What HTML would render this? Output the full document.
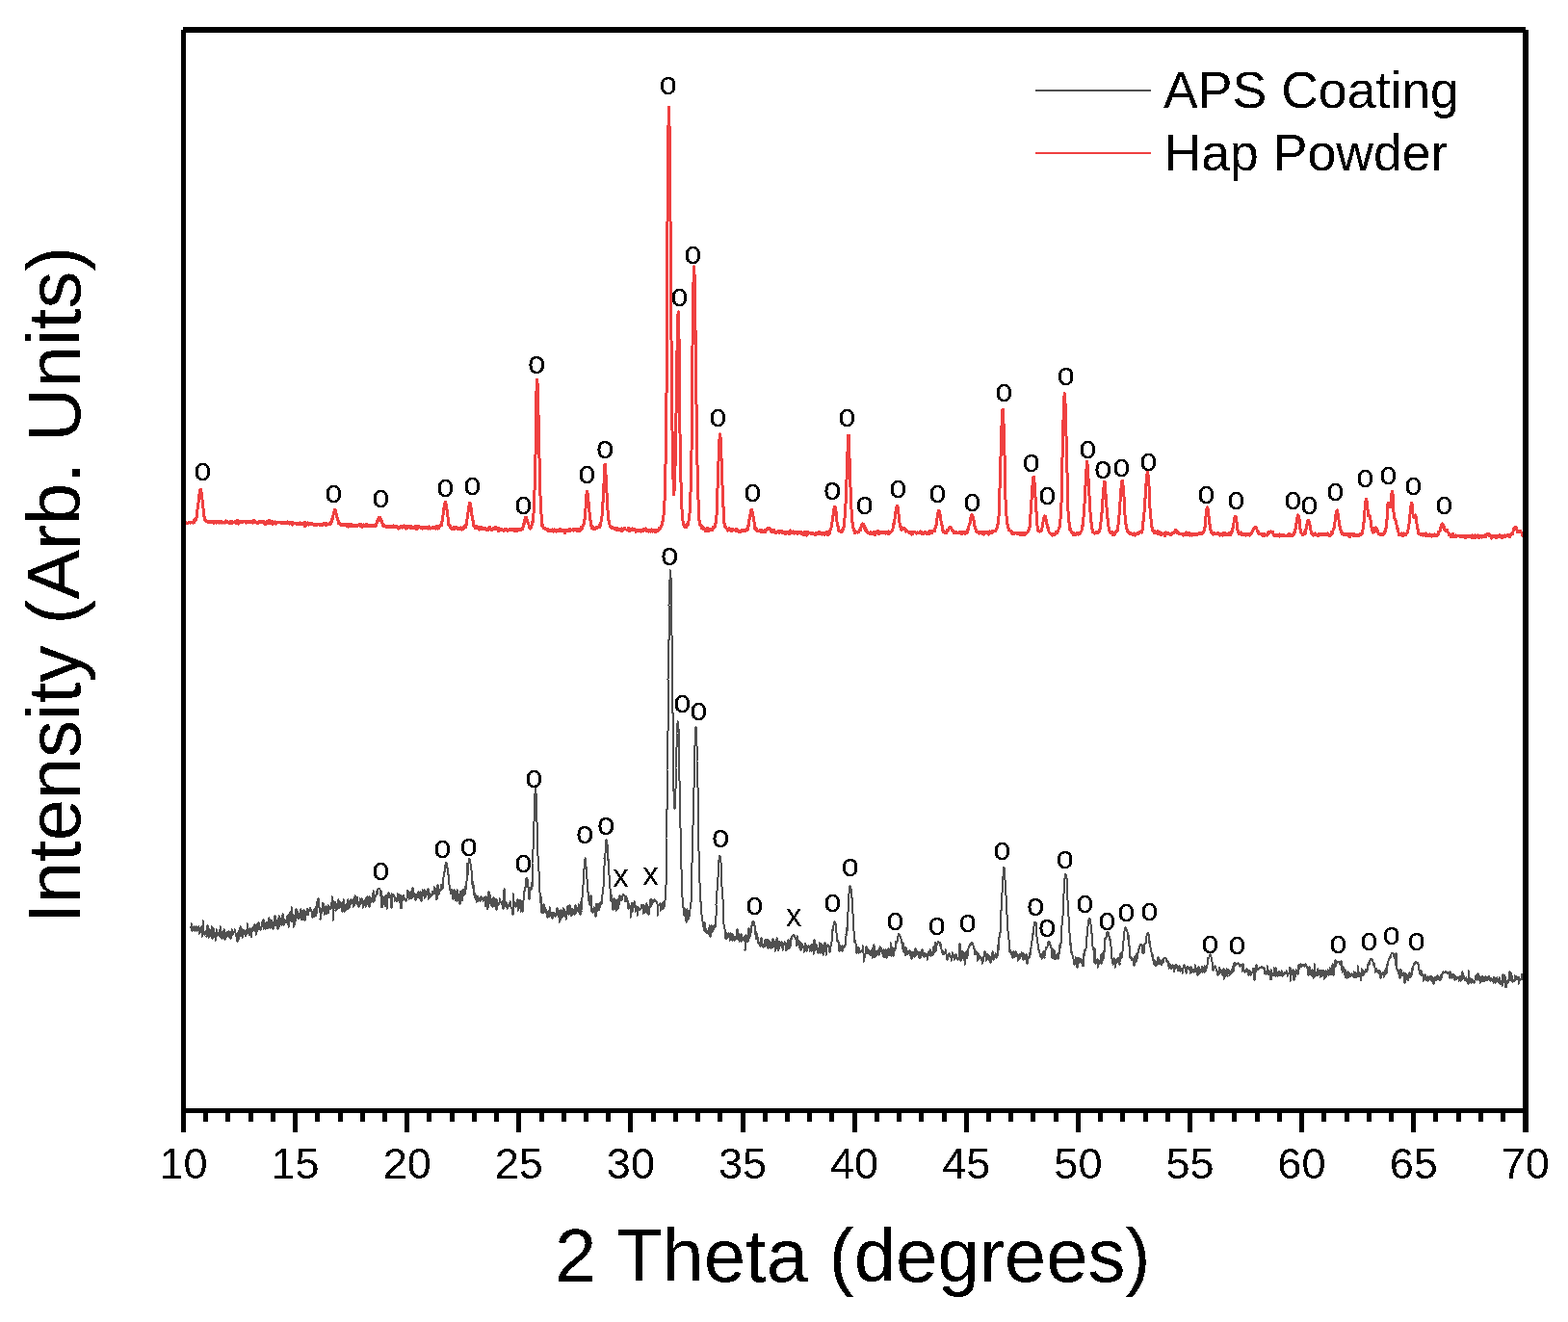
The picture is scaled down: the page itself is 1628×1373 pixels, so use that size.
<!DOCTYPE html>
<html><head><meta charset="utf-8"><title>XRD</title>
<style>html,body{margin:0;padding:0;background:#fff;overflow:hidden;}svg{display:block;}</style>
</head><body>
<svg width="1628" height="1373" viewBox="0 0 1628 1373">
<defs><filter id="bin" filterUnits="userSpaceOnUse" x="0" y="0" width="1628" height="1373"><feComponentTransfer><feFuncA type="discrete" tableValues="0 1"/></feComponentTransfer></filter></defs>
<rect x="0" y="0" width="1628" height="1373" fill="#fff"/>
<path d="M197.5,963.1 L197.5,962.6 L198.5,962.8 L198.5,959.1 L199.5,966.6 L199.5,965.5 L200.5,962.7 L200.5,966.3 L201.5,965.6 L201.5,962.3 L202.5,967.3 L202.5,963.3 L203.5,963.4 L203.5,962.0 L204.5,966.2 L204.5,964.3 L204.5,966.7 L205.5,963.1 L205.5,965.6 L206.5,962.5 L206.5,970.4 L207.5,966.2 L207.5,966.8 L208.5,967.2 L208.5,962.7 L209.5,968.6 L209.5,972.9 L210.5,961.0 L210.5,956.4 L210.5,957.8 L211.5,969.5 L211.5,967.3 L212.5,970.5 L212.5,971.3 L213.5,968.4 L213.5,968.2 L214.5,966.8 L214.5,972.6 L215.5,961.0 L215.5,966.3 L216.5,968.6 L216.5,973.8 L217.5,965.5 L217.5,964.6 L217.5,966.3 L218.5,971.4 L218.5,967.0 L219.5,972.8 L219.5,962.4 L220.5,975.3 L220.5,972.2 L221.5,964.2 L221.5,969.5 L222.5,973.1 L222.5,969.4 L223.5,972.5 L223.5,977.2 L223.5,970.4 L224.5,968.6 L224.5,965.1 L225.5,971.9 L225.5,969.2 L226.5,968.9 L226.5,969.7 L227.5,972.3 L227.5,966.7 L228.5,965.2 L228.5,962.2 L229.5,974.2 L229.5,970.5 L230.5,975.3 L230.5,970.2 L230.5,967.8 L231.5,971.9 L231.5,970.0 L232.5,966.1 L232.5,965.0 L233.5,976.2 L233.5,971.5 L234.5,971.7 L234.5,969.4 L235.5,968.0 L235.5,973.3 L236.5,970.0 L236.5,967.8 L236.5,969.9 L237.5,967.3 L237.5,971.0 L238.5,974.2 L238.5,967.6 L239.5,975.2 L239.5,968.2 L240.5,970.9 L240.5,965.3 L241.5,969.7 L241.5,970.6 L242.5,967.8 L242.5,968.1 L243.5,968.1 L243.5,967.5 L243.5,964.9 L244.5,969.2 L244.5,971.3 L245.5,973.0 L245.5,972.0 L246.5,978.0 L246.5,970.7 L247.5,968.0 L247.5,975.8 L248.5,965.8 L248.5,972.5 L249.5,963.3 L249.5,970.2 L249.5,962.2 L250.5,971.9 L250.5,968.2 L251.5,965.3 L251.5,974.3 L252.5,971.1 L252.5,968.5 L253.5,965.7 L253.5,968.0 L254.5,967.5 L254.5,972.4 L255.5,970.6 L255.5,965.5 L256.5,965.8 L256.5,965.8 L256.5,959.2 L257.5,965.4 L257.5,967.0 L258.5,969.5 L258.5,971.5 L259.5,964.0 L259.5,968.6 L260.5,965.0 L260.5,973.5 L261.5,966.0 L261.5,967.8 L262.5,962.7 L262.5,962.9 L262.5,966.3 L263.5,964.1 L263.5,966.5 L264.5,959.7 L264.5,967.3 L265.5,961.7 L265.5,970.6 L266.5,963.5 L266.5,968.2 L267.5,959.4 L267.5,965.5 L268.5,958.3 L268.5,962.1 L269.5,963.7 L269.5,961.5 L269.5,964.2 L270.5,965.7 L270.5,965.3 L271.5,962.5 L271.5,957.9 L272.5,959.7 L272.5,961.7 L273.5,954.8 L273.5,964.7 L274.5,961.1 L274.5,960.9 L275.5,965.0 L275.5,963.9 L275.5,962.2 L276.5,957.7 L276.5,963.1 L277.5,963.2 L277.5,957.7 L278.5,964.4 L278.5,962.4 L279.5,953.5 L279.5,960.7 L280.5,955.7 L280.5,964.0 L281.5,962.7 L281.5,955.8 L282.5,956.5 L282.5,959.8 L282.5,958.5 L283.5,964.6 L283.5,961.7 L284.5,957.9 L284.5,960.8 L285.5,951.4 L285.5,959.6 L286.5,961.4 L286.5,957.6 L287.5,955.6 L287.5,960.0 L288.5,964.8 L288.5,958.4 L288.5,953.6 L289.5,962.6 L289.5,950.6 L290.5,958.9 L290.5,954.9 L291.5,960.2 L291.5,953.7 L292.5,961.3 L292.5,957.6 L293.5,950.2 L293.5,949.2 L294.5,954.0 L294.5,960.6 L295.5,956.6 L295.5,955.9 L295.5,954.7 L296.5,958.1 L296.5,956.6 L297.5,956.1 L297.5,951.5 L298.5,959.1 L298.5,959.6 L299.5,949.9 L299.5,962.8 L300.5,956.9 L300.5,952.5 L301.5,947.2 L301.5,956.3 L301.5,955.8 L302.5,949.8 L302.5,941.9 L303.5,957.5 L303.5,949.5 L304.5,951.4 L304.5,963.2 L305.5,960.5 L305.5,956.2 L306.5,949.7 L306.5,956.7 L307.5,944.1 L307.5,952.6 L308.5,949.3 L308.5,947.3 L308.5,946.1 L309.5,953.6 L309.5,952.1 L310.5,952.0 L310.5,954.3 L311.5,948.1 L311.5,946.6 L312.5,944.5 L312.5,949.5 L313.5,955.5 L313.5,949.9 L314.5,952.6 L314.5,946.0 L314.5,947.0 L315.5,947.2 L315.5,945.3 L316.5,956.3 L316.5,952.6 L317.5,946.7 L317.5,946.5 L318.5,948.9 L318.5,943.8 L319.5,950.5 L319.5,944.1 L320.5,947.3 L320.5,944.8 L321.5,945.3 L321.5,943.5 L321.5,942.5 L322.5,944.5 L322.5,945.4 L323.5,946.7 L323.5,947.9 L324.5,953.0 L324.5,950.3 L325.5,946.3 L325.5,949.7 L326.5,944.5 L326.5,952.1 L327.5,948.7 L327.5,941.8 L327.5,951.4 L328.5,949.3 L328.5,936.6 L329.5,943.4 L329.5,942.9 L330.5,933.4 L330.5,941.9 L331.5,942.2 L331.5,947.3 L332.5,947.3 L332.5,954.6 L333.5,943.7 L333.5,949.1 L334.5,945.2 L334.5,945.7 L334.5,940.5 L335.5,937.7 L335.5,941.7 L336.5,947.1 L336.5,949.9 L337.5,946.3 L337.5,945.8 L338.5,940.9 L338.5,949.3 L339.5,948.5 L339.5,941.7 L340.5,943.3 L340.5,939.8 L340.5,948.5 L341.5,944.6 L341.5,942.7 L342.5,944.3 L342.5,944.4 L343.5,941.2 L343.5,938.1 L344.5,937.9 L344.5,931.2 L345.5,943.9 L345.5,956.4 L346.5,935.9 L346.5,942.4 L347.5,943.3 L347.5,938.2 L347.5,942.3 L348.5,937.5 L348.5,945.7 L349.5,939.2 L349.5,941.5 L350.5,943.5 L350.5,939.5 L351.5,934.5 L351.5,938.9 L352.5,943.4 L352.5,940.3 L353.5,941.4 L353.5,936.6 L353.5,940.9 L354.5,942.9 L354.5,940.3 L355.5,946.9 L355.5,939.2 L356.5,936.2 L356.5,934.0 L357.5,947.1 L357.5,939.4 L358.5,946.0 L358.5,941.1 L359.5,945.1 L359.5,943.7 L360.5,937.8 L360.5,940.0 L360.5,942.8 L361.5,934.5 L361.5,943.9 L362.5,943.0 L362.5,942.1 L363.5,937.2 L363.5,939.5 L364.5,934.4 L364.5,938.5 L365.5,936.1 L365.5,938.4 L366.5,936.3 L366.5,939.0 L366.5,942.1 L367.5,933.2 L367.5,941.1 L368.5,930.6 L368.5,929.9 L369.5,937.1 L369.5,937.5 L370.5,939.0 L370.5,931.5 L371.5,937.0 L371.5,937.6 L372.5,941.5 L372.5,936.6 L373.5,940.3 L373.5,933.4 L373.5,936.1 L374.5,935.1 L374.5,939.1 L375.5,933.1 L375.5,933.5 L376.5,938.5 L376.5,942.7 L377.5,937.6 L377.5,937.3 L378.5,934.9 L378.5,939.9 L379.5,937.9 L379.5,942.1 L379.5,937.1 L380.5,932.5 L380.5,932.2 L381.5,932.3 L381.5,931.3 L382.5,940.2 L382.5,940.8 L383.5,931.2 L383.5,941.8 L384.5,936.3 L384.5,932.0 L385.5,936.7 L385.5,935.0 L386.5,932.4 L386.5,928.2 L386.5,935.0 L387.5,936.6 L387.5,925.3 L388.5,936.1 L388.5,935.8 L389.5,931.2 L389.5,932.3 L390.5,929.6 L390.5,926.1 L391.5,925.4 L391.5,928.5 L392.5,922.7 L392.5,923.1 L392.5,922.8 L392.5,922.8 L393.5,923.2 L393.5,922.6 L394.5,924.0 L394.5,927.7 L395.5,930.4 L395.5,924.9 L396.5,942.5 L396.5,930.6 L397.5,933.6 L397.5,932.8 L398.5,932.4 L398.5,938.6 L399.5,932.4 L399.5,938.9 L399.5,941.5 L400.5,930.5 L400.5,937.9 L401.5,930.1 L401.5,943.9 L402.5,932.9 L402.5,930.9 L403.5,927.4 L403.5,929.6 L404.5,932.1 L404.5,930.6 L405.5,929.8 L405.5,931.7 L405.5,933.4 L406.5,943.3 L406.5,928.0 L407.5,932.1 L407.5,930.6 L408.5,928.6 L408.5,929.5 L409.5,930.7 L409.5,936.3 L410.5,933.0 L410.5,931.7 L411.5,935.7 L411.5,935.3 L412.5,932.6 L412.5,935.8 L412.5,928.0 L413.5,935.4 L413.5,934.8 L414.5,931.6 L414.5,928.7 L415.5,938.3 L415.5,933.2 L416.5,943.5 L416.5,930.4 L417.5,935.7 L417.5,931.1 L418.5,933.4 L418.5,935.4 L418.5,929.6 L419.5,931.7 L419.5,932.8 L420.5,932.6 L420.5,934.2 L421.5,935.6 L421.5,934.9 L422.5,932.8 L422.5,930.6 L423.5,924.6 L423.5,929.1 L424.5,929.7 L424.5,933.9 L425.5,930.1 L425.5,927.0 L425.5,933.5 L426.5,926.1 L426.5,928.4 L427.5,930.3 L427.5,932.6 L428.5,922.4 L428.5,926.9 L429.5,931.4 L429.5,929.4 L430.5,927.6 L430.5,928.6 L431.5,935.3 L431.5,928.8 L431.5,932.8 L432.5,933.0 L432.5,928.6 L433.5,931.6 L433.5,927.1 L434.5,927.8 L434.5,925.9 L435.5,932.8 L435.5,928.3 L436.5,926.1 L436.5,925.6 L437.5,935.8 L437.5,932.0 L438.5,928.8 L438.5,926.8 L438.5,923.8 L439.5,930.1 L439.5,930.1 L440.5,924.1 L440.5,933.1 L441.5,931.7 L441.5,925.6 L442.5,927.0 L442.5,927.4 L443.5,929.4 L443.5,928.3 L444.5,923.1 L444.5,933.9 L444.5,929.9 L445.5,933.1 L445.5,933.1 L446.5,927.9 L446.5,929.8 L447.5,931.1 L447.5,931.2 L448.5,927.9 L448.5,926.3 L449.5,928.5 L449.5,925.5 L450.5,926.3 L450.5,921.1 L451.5,928.4 L451.5,921.6 L451.5,924.5 L452.5,927.7 L452.5,928.9 L453.5,934.4 L453.5,928.4 L454.5,918.7 L454.5,928.0 L455.5,925.4 L455.5,928.8 L456.5,924.8 L456.5,924.4 L457.5,924.7 L457.5,923.6 L457.5,918.5 L458.5,919.2 L458.5,921.5 L459.5,923.3 L459.5,915.0 L460.5,911.1 L460.5,910.2 L461.5,905.5 L461.5,902.6 L462.5,897.7 L462.5,895.8 L462.5,895.7 L463.5,896.1 L463.5,897.7 L464.5,901.6 L464.5,901.1 L464.5,908.4 L465.5,908.2 L465.5,916.6 L466.5,918.7 L466.5,922.2 L467.5,924.3 L467.5,927.7 L468.5,927.8 L468.5,925.8 L469.5,923.7 L469.5,932.9 L470.5,933.8 L470.5,927.5 L470.5,931.2 L471.5,924.1 L471.5,924.1 L472.5,928.7 L472.5,934.9 L473.5,926.2 L473.5,927.0 L474.5,935.6 L474.5,923.5 L475.5,932.4 L475.5,931.9 L476.5,928.9 L476.5,930.9 L477.5,939.3 L477.5,926.4 L477.5,929.2 L478.5,929.4 L478.5,927.8 L479.5,925.5 L479.5,935.5 L480.5,930.6 L480.5,923.5 L481.5,926.7 L481.5,929.8 L482.5,928.8 L482.5,920.9 L483.5,923.5 L483.5,922.7 L483.5,920.1 L484.5,914.8 L484.5,897.3 L485.5,908.5 L485.5,899.1 L486.5,896.1 L486.5,892.2 L487.5,891.6 L487.5,891.7 L487.5,893.8 L488.5,896.8 L488.5,899.9 L489.5,903.6 L489.5,917.7 L490.5,915.0 L490.5,915.7 L490.5,922.2 L491.5,919.1 L491.5,928.6 L492.5,928.0 L492.5,926.8 L493.5,933.2 L493.5,929.4 L494.5,934.5 L494.5,936.6 L495.5,931.2 L495.5,930.5 L496.5,933.5 L496.5,936.1 L496.5,933.1 L497.5,933.8 L497.5,933.3 L498.5,935.5 L498.5,935.8 L499.5,931.3 L499.5,932.2 L500.5,934.2 L500.5,931.8 L501.5,934.7 L501.5,936.2 L502.5,934.4 L502.5,932.5 L503.5,932.0 L503.5,940.8 L503.5,937.9 L504.5,931.1 L504.5,932.2 L505.5,941.6 L505.5,944.5 L506.5,935.8 L506.5,942.5 L507.5,926.4 L507.5,935.6 L508.5,938.2 L508.5,929.4 L509.5,933.2 L509.5,938.6 L509.5,939.9 L510.5,934.1 L510.5,937.2 L511.5,941.8 L511.5,934.0 L512.5,931.9 L512.5,936.3 L513.5,935.3 L513.5,941.2 L514.5,937.4 L514.5,934.2 L515.5,945.2 L515.5,934.1 L516.5,940.2 L516.5,939.7 L516.5,940.2 L517.5,938.2 L517.5,939.7 L518.5,937.6 L518.5,933.1 L519.5,937.3 L519.5,937.5 L520.5,937.6 L520.5,938.8 L521.5,936.3 L521.5,943.1 L522.5,944.0 L522.5,925.3 L522.5,938.9 L523.5,936.6 L523.5,923.2 L524.5,940.6 L524.5,937.2 L525.5,938.1 L525.5,937.3 L526.5,943.3 L526.5,943.9 L527.5,940.7 L527.5,942.2 L528.5,939.6 L528.5,940.5 L529.5,937.6 L529.5,940.5 L529.5,936.1 L530.5,941.8 L530.5,943.5 L531.5,942.7 L531.5,944.9 L532.5,950.1 L532.5,928.3 L533.5,941.3 L533.5,939.4 L534.5,939.9 L534.5,937.0 L535.5,941.8 L535.5,940.9 L535.5,938.0 L536.5,941.1 L536.5,940.0 L537.5,934.1 L537.5,945.7 L538.5,940.3 L538.5,938.9 L539.5,943.1 L539.5,939.8 L540.5,934.6 L540.5,947.1 L541.5,935.8 L541.5,940.2 L542.5,940.4 L542.5,946.9 L542.5,940.8 L543.5,935.3 L543.5,926.4 L544.5,925.7 L544.5,925.7 L545.5,921.5 L545.5,915.3 L546.5,912.1 L546.5,911.5 L546.5,911.6 L547.5,912.9 L547.5,915.7 L548.5,921.4 L548.5,924.7 L548.5,930.4 L549.5,933.8 L549.5,932.3 L550.5,922.3 L550.5,922.3 L551.5,924.3 L551.5,916.8 L552.5,921.2 L552.5,896.5 L553.5,882.2 L553.5,870.1 L554.5,853.4 L554.5,835.4 L555.5,823.9 L555.5,817.1 L555.5,816.3 L555.5,817.4 L556.5,823.8 L556.5,838.5 L557.5,854.4 L557.5,872.0 L558.5,888.6 L558.5,901.8 L559.5,904.9 L559.5,918.2 L560.5,926.9 L560.5,937.4 L561.5,931.3 L561.5,938.4 L561.5,941.4 L562.5,948.3 L562.5,940.0 L563.5,940.9 L563.5,948.1 L564.5,939.3 L564.5,947.8 L565.5,945.5 L565.5,942.0 L566.5,946.1 L566.5,944.3 L567.5,948.4 L567.5,949.2 L568.5,953.1 L568.5,948.2 L568.5,948.7 L569.5,946.5 L569.5,948.4 L570.5,952.1 L570.5,942.2 L571.5,950.9 L571.5,947.0 L572.5,949.1 L572.5,949.9 L573.5,954.0 L573.5,949.7 L574.5,947.6 L574.5,950.0 L574.5,949.0 L575.5,948.2 L575.5,949.5 L576.5,951.7 L576.5,949.2 L577.5,949.3 L577.5,944.4 L578.5,947.9 L578.5,942.5 L579.5,951.0 L579.5,945.4 L580.5,952.8 L580.5,958.3 L581.5,947.1 L581.5,956.3 L581.5,949.6 L582.5,944.9 L582.5,945.4 L583.5,950.0 L583.5,952.7 L584.5,949.2 L584.5,942.9 L585.5,944.4 L585.5,947.0 L586.5,952.2 L586.5,948.6 L587.5,948.7 L587.5,954.7 L587.5,946.8 L588.5,947.1 L588.5,946.7 L589.5,941.4 L589.5,948.8 L590.5,948.5 L590.5,950.3 L591.5,940.0 L591.5,944.3 L592.5,950.0 L592.5,948.0 L593.5,951.4 L593.5,943.9 L594.5,947.4 L594.5,944.4 L594.5,947.6 L595.5,944.9 L595.5,948.1 L596.5,949.8 L596.5,948.4 L597.5,940.1 L597.5,949.0 L598.5,947.3 L598.5,942.2 L599.5,942.6 L599.5,945.3 L600.5,946.9 L600.5,943.3 L600.5,939.1 L601.5,944.9 L601.5,944.2 L602.5,950.2 L602.5,936.5 L603.5,946.7 L603.5,945.6 L604.5,932.0 L604.5,930.9 L605.5,919.2 L605.5,914.2 L606.5,902.5 L606.5,897.2 L607.5,892.6 L607.5,891.3 L607.5,891.3 L607.5,893.5 L608.5,899.6 L608.5,908.7 L609.5,912.8 L609.5,920.6 L610.5,927.2 L610.5,926.1 L611.5,936.2 L611.5,938.1 L612.5,939.8 L612.5,934.6 L613.5,930.2 L613.5,941.6 L613.5,943.7 L614.5,947.2 L614.5,946.7 L615.5,947.8 L615.5,944.3 L616.5,946.9 L616.5,941.9 L617.5,945.1 L617.5,948.5 L618.5,951.7 L618.5,944.3 L619.5,938.6 L619.5,947.1 L620.5,939.8 L620.5,941.9 L620.5,940.9 L621.5,938.6 L621.5,945.5 L622.5,942.7 L622.5,938.2 L623.5,939.6 L623.5,936.9 L624.5,938.7 L624.5,933.3 L625.5,929.1 L625.5,925.4 L626.5,920.8 L626.5,916.7 L626.5,905.1 L627.5,899.3 L627.5,891.7 L628.5,885.8 L628.5,876.6 L629.5,872.6 L629.5,872.2 L629.5,872.7 L630.5,876.7 L630.5,885.3 L631.5,894.2 L631.5,892.3 L632.5,908.9 L632.5,915.5 L633.5,922.6 L633.5,930.5 L633.5,926.3 L634.5,936.0 L634.5,929.1 L635.5,936.0 L635.5,938.0 L636.5,944.8 L636.5,935.7 L637.5,932.8 L637.5,940.8 L638.5,936.6 L638.5,944.0 L639.5,934.9 L639.5,936.3 L639.5,946.4 L640.5,939.3 L640.5,944.7 L641.5,934.1 L641.5,943.6 L642.5,935.9 L642.5,939.7 L643.5,930.4 L643.5,930.3 L644.5,933.3 L644.5,933.4 L645.5,935.3 L645.5,931.0 L646.5,930.6 L646.5,928.9 L646.5,928.5 L647.5,928.5 L647.5,928.8 L647.5,929.3 L648.5,931.2 L648.5,930.6 L649.5,936.5 L649.5,930.5 L650.5,931.7 L650.5,936.5 L651.5,934.6 L651.5,943.3 L652.5,943.0 L652.5,938.2 L652.5,943.7 L653.5,939.5 L653.5,941.8 L654.5,942.2 L654.5,953.3 L655.5,942.6 L655.5,939.9 L656.5,937.7 L656.5,947.0 L657.5,937.9 L657.5,940.7 L658.5,942.3 L658.5,935.8 L659.5,942.3 L659.5,947.1 L659.5,944.7 L660.5,941.2 L660.5,946.4 L661.5,946.0 L661.5,950.9 L662.5,942.2 L662.5,943.4 L663.5,944.9 L663.5,944.4 L664.5,945.2 L664.5,944.7 L665.5,942.9 L665.5,940.1 L665.5,943.5 L666.5,941.0 L666.5,939.5 L667.5,943.9 L667.5,948.6 L668.5,948.4 L668.5,939.8 L669.5,946.7 L669.5,948.3 L670.5,945.3 L670.5,940.3 L671.5,938.5 L671.5,947.6 L672.5,947.7 L672.5,945.3 L672.5,940.6 L673.5,948.1 L673.5,949.7 L674.5,942.0 L674.5,940.6 L675.5,934.3 L675.5,942.0 L676.5,934.0 L676.5,939.5 L677.5,938.4 L677.5,936.4 L678.5,937.1 L678.5,934.7 L678.5,934.7 L679.5,934.5 L679.5,934.5 L679.5,934.7 L680.5,935.7 L680.5,936.1 L681.5,936.0 L681.5,937.1 L682.5,938.8 L682.5,950.9 L683.5,940.8 L683.5,940.7 L684.5,939.0 L684.5,939.3 L685.5,937.9 L685.5,945.8 L685.5,945.1 L686.5,942.1 L686.5,940.8 L687.5,944.4 L687.5,943.5 L688.5,936.8 L688.5,944.2 L689.5,941.6 L689.5,937.6 L690.5,934.8 L690.5,921.9 L691.5,919.2 L691.5,890.6 L691.5,871.2 L692.5,840.5 L692.5,799.9 L693.5,758.7 L693.5,705.6 L694.5,664.5 L694.5,628.8 L695.5,602.4 L695.5,592.3 L695.5,592.3 L696.5,600.3 L696.5,624.5 L697.5,660.0 L697.5,700.9 L698.5,740.5 L698.5,777.0 L698.5,813.9 L699.5,821.6 L699.5,836.2 L700.5,840.0 L700.5,831.0 L701.5,818.7 L701.5,797.7 L702.5,775.9 L702.5,761.5 L703.5,751.5 L703.5,749.4 L703.5,749.8 L704.5,757.2 L704.5,773.4 L704.5,793.2 L705.5,811.0 L705.5,840.6 L706.5,859.9 L706.5,883.5 L707.5,903.2 L707.5,918.9 L708.5,931.7 L708.5,933.9 L709.5,942.7 L709.5,948.6 L710.5,951.2 L710.5,942.6 L711.5,950.5 L711.5,956.4 L711.5,951.1 L712.5,956.3 L712.5,957.9 L713.5,944.5 L713.5,954.4 L714.5,955.2 L714.5,953.6 L715.5,947.4 L715.5,951.8 L716.5,944.9 L716.5,944.5 L717.5,936.7 L717.5,924.8 L717.5,915.4 L718.5,896.1 L718.5,880.1 L719.5,856.8 L719.5,838.4 L720.5,817.6 L720.5,793.3 L721.5,773.9 L721.5,760.4 L722.5,755.3 L722.5,755.3 L722.5,759.3 L723.5,774.6 L723.5,790.4 L724.5,817.9 L724.5,840.3 L724.5,858.8 L725.5,883.8 L725.5,900.9 L726.5,917.2 L726.5,930.8 L727.5,936.4 L727.5,943.6 L728.5,949.6 L728.5,950.6 L729.5,956.9 L729.5,960.8 L730.5,962.4 L730.5,963.1 L730.5,962.2 L731.5,966.6 L731.5,958.4 L732.5,964.1 L732.5,964.7 L733.5,968.9 L733.5,968.5 L734.5,969.3 L734.5,967.1 L735.5,970.2 L735.5,964.3 L736.5,967.8 L736.5,961.2 L737.5,973.1 L737.5,972.8 L737.5,966.0 L738.5,965.2 L738.5,961.2 L739.5,962.8 L739.5,967.6 L740.5,966.3 L740.5,961.5 L741.5,963.4 L741.5,961.2 L742.5,963.1 L742.5,959.7 L743.5,951.3 L743.5,947.4 L743.5,939.6 L744.5,924.6 L744.5,921.9 L745.5,911.4 L745.5,903.2 L746.5,893.2 L746.5,889.7 L747.5,888.7 L747.5,888.9 L747.5,892.6 L748.5,895.8 L748.5,903.2 L749.5,920.6 L749.5,924.4 L750.5,934.3 L750.5,947.2 L750.5,951.5 L751.5,959.8 L751.5,962.8 L752.5,964.5 L752.5,969.7 L753.5,975.0 L753.5,968.5 L754.5,974.7 L754.5,974.2 L755.5,971.5 L755.5,973.0 L756.5,969.1 L756.5,970.3 L756.5,973.3 L757.5,972.5 L757.5,976.8 L758.5,969.1 L758.5,972.3 L759.5,971.4 L759.5,973.1 L760.5,977.2 L760.5,970.1 L761.5,976.5 L761.5,972.2 L762.5,973.1 L762.5,977.3 L763.5,973.4 L763.5,976.4 L763.5,974.8 L764.5,974.1 L764.5,973.6 L765.5,964.9 L765.5,972.5 L766.5,975.4 L766.5,975.6 L767.5,970.5 L767.5,978.1 L768.5,976.9 L768.5,971.2 L769.5,972.1 L769.5,977.8 L769.5,970.0 L770.5,973.1 L770.5,975.3 L771.5,974.5 L771.5,975.4 L772.5,976.8 L772.5,973.2 L773.5,974.2 L773.5,986.6 L774.5,971.3 L774.5,974.1 L775.5,975.7 L775.5,973.1 L776.5,978.4 L776.5,974.3 L776.5,977.1 L777.5,964.2 L777.5,974.3 L778.5,972.5 L778.5,964.7 L779.5,968.7 L779.5,963.0 L780.5,961.7 L780.5,960.0 L781.5,957.2 L781.5,956.8 L781.5,956.8 L782.5,957.2 L782.5,958.0 L782.5,959.5 L783.5,961.4 L783.5,969.0 L784.5,970.4 L784.5,967.4 L785.5,975.5 L785.5,968.6 L786.5,973.0 L786.5,975.0 L787.5,980.3 L787.5,979.5 L788.5,979.1 L788.5,982.0 L789.5,980.5 L789.5,982.7 L789.5,976.3 L790.5,973.8 L790.5,977.7 L791.5,981.6 L791.5,980.0 L792.5,984.0 L792.5,981.6 L793.5,981.1 L793.5,982.1 L794.5,975.7 L794.5,983.1 L795.5,976.9 L795.5,979.7 L795.5,975.9 L796.5,981.7 L796.5,975.6 L797.5,984.6 L797.5,976.4 L798.5,981.3 L798.5,980.2 L799.5,978.0 L799.5,984.5 L800.5,979.5 L800.5,985.3 L801.5,977.8 L801.5,978.6 L802.5,975.0 L802.5,982.7 L802.5,983.9 L803.5,981.8 L803.5,980.7 L804.5,978.5 L804.5,988.4 L805.5,983.6 L805.5,975.9 L806.5,980.5 L806.5,973.7 L807.5,986.3 L807.5,987.5 L808.5,986.0 L808.5,981.5 L808.5,979.9 L809.5,977.6 L809.5,983.4 L810.5,979.6 L810.5,979.7 L811.5,978.3 L811.5,981.0 L812.5,984.6 L812.5,987.0 L813.5,982.4 L813.5,982.1 L814.5,978.7 L814.5,978.3 L815.5,978.8 L815.5,986.6 L815.5,982.6 L816.5,986.8 L816.5,982.8 L817.5,980.1 L817.5,977.3 L818.5,978.5 L818.5,975.8 L819.5,985.4 L819.5,979.5 L820.5,975.7 L820.5,982.8 L821.5,973.7 L821.5,976.2 L821.5,973.5 L822.5,973.4 L822.5,971.8 L823.5,971.8 L823.5,971.4 L824.5,971.4 L824.5,971.5 L824.5,972.5 L825.5,972.8 L825.5,974.9 L826.5,974.0 L826.5,979.9 L827.5,982.3 L827.5,971.5 L828.5,981.0 L828.5,978.1 L828.5,975.8 L829.5,980.5 L829.5,983.7 L830.5,978.3 L830.5,979.0 L831.5,986.8 L831.5,983.5 L832.5,984.8 L832.5,980.3 L833.5,981.9 L833.5,984.3 L834.5,984.6 L834.5,984.6 L834.5,989.0 L835.5,984.7 L835.5,979.7 L836.5,981.7 L836.5,984.2 L837.5,988.3 L837.5,982.4 L838.5,983.4 L838.5,984.5 L839.5,982.5 L839.5,982.2 L840.5,984.0 L840.5,987.7 L841.5,986.2 L841.5,983.0 L841.5,986.1 L842.5,981.0 L842.5,987.9 L843.5,987.2 L843.5,985.9 L844.5,980.2 L844.5,991.2 L845.5,976.3 L845.5,979.5 L846.5,982.4 L846.5,987.3 L847.5,980.8 L847.5,986.0 L847.5,984.2 L848.5,984.5 L848.5,987.9 L849.5,989.7 L849.5,986.6 L850.5,984.6 L850.5,978.6 L851.5,989.9 L851.5,984.6 L852.5,980.0 L852.5,986.0 L853.5,989.9 L853.5,985.1 L854.5,982.1 L854.5,992.3 L854.5,987.4 L855.5,986.6 L855.5,988.6 L856.5,979.1 L856.5,984.9 L857.5,985.0 L857.5,992.2 L858.5,983.7 L858.5,982.1 L859.5,981.0 L859.5,982.6 L860.5,984.2 L860.5,985.6 L860.5,983.3 L861.5,989.2 L861.5,983.5 L862.5,982.5 L862.5,982.6 L863.5,977.8 L863.5,971.3 L864.5,964.7 L864.5,966.5 L865.5,961.1 L865.5,960.3 L866.5,957.7 L866.5,957.4 L866.5,957.5 L867.5,959.3 L867.5,961.2 L867.5,965.2 L868.5,969.0 L868.5,977.3 L869.5,976.4 L869.5,978.2 L870.5,978.8 L870.5,977.5 L871.5,987.9 L871.5,988.0 L872.5,982.3 L872.5,987.4 L873.5,986.7 L873.5,984.7 L873.5,984.9 L874.5,988.0 L874.5,982.0 L875.5,983.7 L875.5,984.5 L876.5,983.8 L876.5,981.8 L877.5,981.6 L877.5,979.7 L878.5,972.1 L878.5,970.7 L879.5,963.5 L879.5,966.5 L880.5,947.2 L880.5,942.3 L880.5,937.2 L881.5,928.4 L881.5,923.1 L882.5,920.1 L882.5,919.6 L882.5,919.9 L883.5,922.7 L883.5,928.0 L884.5,932.4 L884.5,943.6 L885.5,949.3 L885.5,959.0 L886.5,967.1 L886.5,971.1 L886.5,971.0 L887.5,979.0 L887.5,975.9 L888.5,980.3 L888.5,989.0 L889.5,985.0 L889.5,990.3 L890.5,985.7 L890.5,986.6 L891.5,983.6 L891.5,989.9 L892.5,986.7 L892.5,989.3 L893.5,988.8 L893.5,989.2 L893.5,988.7 L894.5,987.7 L894.5,987.9 L895.5,985.9 L895.5,981.7 L896.5,989.5 L896.5,999.1 L897.5,991.3 L897.5,995.1 L898.5,990.7 L898.5,985.3 L899.5,982.9 L899.5,990.4 L899.5,989.2 L900.5,987.7 L900.5,990.4 L901.5,985.6 L901.5,989.8 L902.5,987.4 L902.5,988.7 L903.5,991.7 L903.5,987.8 L904.5,992.3 L904.5,992.1 L905.5,985.9 L905.5,995.0 L906.5,984.5 L906.5,987.9 L906.5,990.4 L907.5,981.5 L907.5,991.4 L908.5,994.4 L908.5,988.0 L909.5,989.2 L909.5,989.1 L910.5,987.8 L910.5,991.6 L911.5,987.4 L911.5,988.4 L912.5,990.5 L912.5,991.1 L912.5,991.9 L913.5,984.2 L913.5,982.6 L914.5,987.9 L914.5,988.5 L915.5,985.5 L915.5,989.6 L916.5,990.6 L916.5,989.9 L917.5,993.6 L917.5,985.7 L918.5,988.8 L918.5,994.5 L919.5,990.8 L919.5,985.5 L919.5,989.4 L920.5,992.3 L920.5,995.0 L921.5,990.8 L921.5,992.3 L922.5,985.5 L922.5,988.1 L923.5,992.3 L923.5,985.9 L924.5,988.4 L924.5,978.8 L925.5,993.0 L925.5,988.2 L925.5,990.1 L926.5,983.9 L926.5,984.2 L927.5,993.1 L927.5,986.3 L928.5,985.1 L928.5,987.4 L929.5,986.4 L929.5,977.6 L930.5,978.8 L930.5,979.9 L931.5,977.6 L931.5,976.1 L932.5,972.6 L932.5,971.2 L932.5,970.2 L933.5,969.8 L933.5,969.8 L933.5,970.2 L934.5,971.6 L934.5,973.2 L935.5,974.6 L935.5,977.2 L936.5,980.0 L936.5,983.8 L937.5,985.8 L937.5,978.5 L938.5,989.3 L938.5,982.6 L938.5,989.5 L939.5,986.4 L939.5,990.5 L940.5,992.2 L940.5,983.7 L941.5,991.2 L941.5,990.3 L942.5,988.3 L942.5,990.8 L943.5,988.4 L943.5,990.2 L944.5,986.9 L944.5,992.3 L945.5,991.8 L945.5,992.3 L945.5,988.3 L946.5,995.6 L946.5,996.1 L947.5,990.1 L947.5,989.2 L948.5,989.2 L948.5,992.5 L949.5,993.5 L949.5,988.4 L950.5,984.7 L950.5,992.0 L951.5,990.6 L951.5,991.2 L951.5,992.3 L952.5,987.6 L952.5,991.0 L953.5,990.0 L953.5,992.0 L954.5,994.5 L954.5,991.0 L955.5,988.6 L955.5,994.7 L956.5,993.2 L956.5,990.6 L957.5,985.9 L957.5,986.6 L958.5,991.7 L958.5,992.9 L958.5,989.8 L959.5,993.5 L959.5,989.5 L960.5,990.2 L960.5,993.0 L961.5,990.6 L961.5,991.9 L962.5,994.0 L962.5,997.3 L963.5,989.8 L963.5,990.8 L964.5,987.7 L964.5,987.7 L964.5,992.3 L965.5,989.9 L965.5,986.0 L966.5,992.8 L966.5,988.7 L967.5,990.1 L967.5,991.9 L968.5,991.5 L968.5,989.7 L969.5,983.5 L969.5,990.2 L970.5,985.9 L970.5,979.1 L971.5,979.0 L971.5,987.8 L971.5,983.0 L972.5,981.5 L972.5,980.9 L973.5,978.9 L973.5,977.6 L974.5,977.9 L974.5,977.9 L974.5,978.1 L975.5,979.4 L975.5,981.7 L976.5,979.5 L976.5,981.2 L977.5,986.2 L977.5,985.9 L977.5,987.0 L978.5,990.3 L978.5,990.8 L979.5,988.3 L979.5,990.7 L980.5,988.9 L980.5,990.8 L981.5,988.6 L981.5,986.4 L982.5,990.8 L982.5,990.7 L983.5,997.1 L983.5,997.2 L984.5,992.8 L984.5,994.2 L984.5,991.1 L985.5,990.3 L985.5,991.5 L986.5,992.3 L986.5,994.0 L987.5,993.5 L987.5,998.0 L988.5,992.7 L988.5,988.6 L989.5,993.9 L989.5,991.5 L990.5,994.0 L990.5,996.7 L990.5,991.7 L991.5,993.3 L991.5,996.1 L992.5,990.9 L992.5,994.2 L993.5,995.2 L993.5,996.0 L994.5,996.8 L994.5,995.3 L995.5,994.8 L995.5,989.7 L996.5,979.9 L996.5,991.0 L997.5,997.8 L997.5,994.1 L997.5,987.3 L998.5,991.5 L998.5,994.8 L999.5,988.4 L999.5,995.3 L1000.5,990.4 L1000.5,996.6 L1001.5,993.6 L1001.5,1002.2 L1002.5,989.5 L1002.5,993.8 L1003.5,988.5 L1003.5,995.5 L1003.5,992.0 L1004.5,993.4 L1004.5,990.0 L1005.5,985.1 L1005.5,985.0 L1006.5,981.7 L1006.5,981.1 L1007.5,981.9 L1007.5,981.1 L1008.5,979.3 L1008.5,978.7 L1008.5,978.7 L1009.5,979.0 L1009.5,979.3 L1010.5,981.6 L1010.5,984.7 L1010.5,984.3 L1011.5,985.3 L1011.5,987.0 L1012.5,991.4 L1012.5,989.9 L1013.5,987.7 L1013.5,991.2 L1014.5,989.9 L1014.5,997.6 L1015.5,993.6 L1015.5,989.6 L1016.5,994.7 L1016.5,996.1 L1016.5,995.2 L1017.5,993.2 L1017.5,994.7 L1018.5,995.1 L1018.5,997.1 L1019.5,995.4 L1019.5,1000.8 L1020.5,993.8 L1020.5,998.7 L1021.5,994.4 L1021.5,989.6 L1022.5,988.4 L1022.5,989.2 L1023.5,989.5 L1023.5,997.7 L1023.5,992.5 L1024.5,996.0 L1024.5,991.8 L1025.5,994.2 L1025.5,991.3 L1026.5,996.6 L1026.5,993.4 L1027.5,992.8 L1027.5,993.5 L1028.5,1000.0 L1028.5,995.1 L1029.5,996.0 L1029.5,990.1 L1029.5,991.6 L1030.5,994.1 L1030.5,987.9 L1031.5,996.7 L1031.5,993.5 L1032.5,992.4 L1032.5,991.6 L1033.5,991.2 L1033.5,990.0 L1034.5,994.7 L1034.5,992.0 L1035.5,992.5 L1035.5,986.8 L1036.5,981.2 L1036.5,986.9 L1036.5,976.3 L1037.5,973.6 L1037.5,971.8 L1038.5,968.6 L1038.5,951.6 L1039.5,945.6 L1039.5,936.9 L1040.5,926.7 L1040.5,916.2 L1041.5,910.0 L1041.5,903.4 L1042.5,900.7 L1042.5,900.5 L1042.5,901.4 L1042.5,904.5 L1043.5,913.9 L1043.5,922.0 L1044.5,929.6 L1044.5,941.1 L1045.5,950.3 L1045.5,957.7 L1046.5,966.8 L1046.5,971.7 L1047.5,975.7 L1047.5,977.0 L1048.5,988.7 L1048.5,986.8 L1049.5,987.9 L1049.5,991.2 L1049.5,989.0 L1050.5,989.7 L1050.5,993.1 L1051.5,994.5 L1051.5,993.8 L1052.5,988.0 L1052.5,992.6 L1053.5,992.5 L1053.5,994.0 L1054.5,988.4 L1054.5,990.0 L1055.5,992.7 L1055.5,990.6 L1055.5,990.2 L1056.5,993.1 L1056.5,998.0 L1057.5,993.8 L1057.5,996.6 L1058.5,990.8 L1058.5,995.6 L1059.5,993.6 L1059.5,991.2 L1060.5,991.6 L1060.5,989.4 L1061.5,993.2 L1061.5,991.7 L1062.5,997.3 L1062.5,992.8 L1062.5,989.8 L1063.5,993.2 L1063.5,995.6 L1064.5,992.8 L1064.5,996.0 L1065.5,991.0 L1065.5,991.1 L1066.5,1001.4 L1066.5,993.1 L1067.5,994.4 L1067.5,993.9 L1068.5,994.9 L1068.5,991.4 L1068.5,989.7 L1069.5,991.8 L1069.5,985.6 L1070.5,984.9 L1070.5,983.5 L1071.5,977.0 L1071.5,970.0 L1072.5,971.1 L1072.5,967.7 L1073.5,962.4 L1073.5,958.6 L1074.5,957.7 L1074.5,957.6 L1074.5,957.9 L1075.5,958.4 L1075.5,962.5 L1075.5,966.8 L1076.5,972.8 L1076.5,977.4 L1077.5,979.5 L1077.5,984.0 L1078.5,986.4 L1078.5,988.1 L1079.5,989.5 L1079.5,990.6 L1080.5,993.9 L1080.5,993.8 L1081.5,991.0 L1081.5,996.4 L1081.5,991.6 L1082.5,993.0 L1082.5,994.2 L1083.5,988.1 L1083.5,991.8 L1084.5,994.5 L1084.5,993.5 L1085.5,986.9 L1085.5,984.6 L1086.5,984.0 L1086.5,984.4 L1087.5,982.9 L1087.5,978.8 L1088.5,979.8 L1088.5,978.4 L1088.5,977.9 L1089.5,977.9 L1089.5,978.3 L1089.5,978.1 L1090.5,981.3 L1090.5,983.4 L1091.5,984.7 L1091.5,983.8 L1092.5,995.0 L1092.5,993.4 L1093.5,986.5 L1093.5,994.6 L1094.5,993.7 L1094.5,986.8 L1094.5,995.5 L1095.5,996.0 L1095.5,996.3 L1096.5,994.7 L1096.5,992.3 L1097.5,991.3 L1097.5,994.7 L1098.5,995.9 L1098.5,990.5 L1099.5,989.3 L1099.5,990.9 L1100.5,980.9 L1100.5,985.1 L1101.5,979.5 L1101.5,969.6 L1101.5,972.0 L1102.5,960.9 L1102.5,959.7 L1103.5,951.4 L1103.5,935.9 L1104.5,928.0 L1104.5,922.1 L1105.5,912.5 L1105.5,910.3 L1106.5,907.7 L1106.5,907.5 L1106.5,908.2 L1107.5,911.6 L1107.5,917.8 L1107.5,922.1 L1108.5,935.2 L1108.5,938.6 L1109.5,951.5 L1109.5,955.6 L1110.5,968.6 L1110.5,981.3 L1111.5,978.7 L1111.5,983.0 L1112.5,990.0 L1112.5,988.1 L1113.5,991.6 L1113.5,995.4 L1114.5,995.6 L1114.5,999.6 L1114.5,999.4 L1115.5,1001.9 L1115.5,997.1 L1116.5,1000.6 L1116.5,994.0 L1117.5,1000.5 L1117.5,1003.0 L1118.5,1004.7 L1118.5,995.1 L1119.5,998.1 L1119.5,1000.6 L1120.5,994.6 L1120.5,1000.1 L1120.5,1000.1 L1121.5,997.2 L1121.5,997.0 L1122.5,995.7 L1122.5,998.7 L1123.5,1000.9 L1123.5,998.5 L1124.5,1003.5 L1124.5,990.9 L1125.5,991.9 L1125.5,993.3 L1126.5,986.0 L1126.5,988.1 L1127.5,985.0 L1127.5,979.5 L1127.5,974.1 L1128.5,972.5 L1128.5,966.5 L1129.5,962.4 L1129.5,958.2 L1130.5,955.0 L1130.5,953.9 L1130.5,953.8 L1131.5,954.2 L1131.5,955.8 L1132.5,959.9 L1132.5,963.7 L1133.5,969.4 L1133.5,972.2 L1133.5,974.4 L1134.5,982.8 L1134.5,985.6 L1135.5,985.3 L1135.5,989.2 L1136.5,1000.1 L1136.5,985.2 L1137.5,1001.4 L1137.5,997.2 L1138.5,997.4 L1138.5,997.3 L1139.5,996.2 L1139.5,1005.2 L1140.5,997.8 L1140.5,998.3 L1140.5,1001.3 L1141.5,1000.1 L1141.5,998.5 L1142.5,998.0 L1142.5,992.1 L1143.5,1001.0 L1143.5,994.5 L1144.5,989.9 L1144.5,998.0 L1145.5,995.6 L1145.5,992.4 L1146.5,987.6 L1146.5,989.4 L1146.5,980.0 L1147.5,974.0 L1147.5,976.3 L1148.5,973.8 L1148.5,970.5 L1149.5,968.4 L1149.5,967.5 L1149.5,967.5 L1150.5,968.1 L1150.5,970.5 L1151.5,972.5 L1151.5,975.6 L1152.5,975.1 L1152.5,981.4 L1153.5,982.7 L1153.5,989.8 L1153.5,992.0 L1154.5,995.7 L1154.5,1000.3 L1155.5,995.9 L1155.5,1001.7 L1156.5,995.4 L1156.5,999.4 L1157.5,1001.9 L1157.5,1004.9 L1158.5,996.8 L1158.5,999.1 L1159.5,1000.2 L1159.5,999.5 L1159.5,997.1 L1160.5,995.1 L1160.5,995.9 L1161.5,998.6 L1161.5,994.6 L1162.5,1002.2 L1162.5,999.6 L1163.5,989.7 L1163.5,991.8 L1164.5,994.5 L1164.5,992.2 L1165.5,988.3 L1165.5,978.0 L1166.5,977.3 L1166.5,977.3 L1166.5,971.1 L1167.5,967.3 L1167.5,965.7 L1168.5,963.7 L1168.5,963.4 L1168.5,963.4 L1169.5,964.6 L1169.5,966.0 L1170.5,968.1 L1170.5,975.4 L1171.5,971.3 L1171.5,981.5 L1172.5,981.7 L1172.5,989.2 L1172.5,983.9 L1173.5,995.2 L1173.5,994.9 L1174.5,994.3 L1174.5,994.6 L1175.5,997.5 L1175.5,996.1 L1176.5,995.8 L1176.5,1002.3 L1177.5,1001.1 L1177.5,1002.9 L1178.5,992.8 L1178.5,993.8 L1179.5,994.2 L1179.5,999.4 L1179.5,998.6 L1180.5,989.9 L1180.5,995.7 L1181.5,989.5 L1181.5,985.5 L1182.5,985.7 L1182.5,984.1 L1183.5,981.8 L1183.5,981.0 L1183.5,981.0 L1184.5,981.0 L1184.5,981.7 L1185.5,980.9 L1185.5,987.2 L1185.5,983.7 L1186.5,990.3 L1186.5,982.5 L1187.5,990.0 L1187.5,982.4 L1188.5,980.4 L1188.5,981.2 L1189.5,979.7 L1189.5,974.8 L1190.5,971.9 L1190.5,971.3 L1191.5,968.9 L1191.5,968.6 L1191.5,968.6 L1192.5,969.9 L1192.5,971.4 L1192.5,974.8 L1193.5,980.4 L1193.5,977.5 L1194.5,984.3 L1194.5,984.7 L1195.5,989.3 L1195.5,993.4 L1196.5,990.5 L1196.5,996.4 L1197.5,997.9 L1197.5,1001.5 L1198.5,998.0 L1198.5,996.8 L1198.5,1001.9 L1199.5,998.2 L1199.5,1002.0 L1200.5,1003.2 L1200.5,999.5 L1201.5,1001.6 L1201.5,999.1 L1202.5,994.2 L1202.5,994.7 L1203.5,996.0 L1203.5,1001.5 L1204.5,998.2 L1204.5,1000.3 L1205.5,1000.1 L1205.5,1002.5 L1205.5,998.1 L1206.5,997.2 L1206.5,998.8 L1207.5,1000.0 L1207.5,996.1 L1208.5,995.9 L1208.5,995.1 L1209.5,995.0 L1209.5,995.0 L1209.5,995.0 L1210.5,995.3 L1210.5,995.6 L1211.5,999.0 L1211.5,996.7 L1211.5,998.9 L1212.5,998.1 L1212.5,1003.0 L1213.5,999.9 L1213.5,1006.4 L1214.5,1001.3 L1214.5,1004.7 L1215.5,1005.8 L1215.5,1002.8 L1216.5,1006.1 L1216.5,1004.2 L1217.5,1002.2 L1217.5,1002.6 L1218.5,1006.2 L1218.5,1009.5 L1218.5,1003.5 L1219.5,1006.4 L1219.5,1002.9 L1220.5,1005.8 L1220.5,1001.7 L1221.5,1003.1 L1221.5,1005.3 L1222.5,1003.4 L1222.5,1004.8 L1223.5,1008.3 L1223.5,1005.3 L1224.5,1003.8 L1224.5,1002.5 L1224.5,1004.5 L1225.5,1009.1 L1225.5,1005.9 L1226.5,1005.8 L1226.5,1008.2 L1227.5,1008.6 L1227.5,1011.2 L1228.5,1005.5 L1228.5,1004.1 L1229.5,1002.2 L1229.5,1004.9 L1230.5,1005.0 L1230.5,1008.8 L1231.5,1007.8 L1231.5,1005.5 L1231.5,1011.3 L1232.5,1003.8 L1232.5,1004.4 L1233.5,1004.2 L1233.5,1004.5 L1234.5,1006.8 L1234.5,1005.3 L1235.5,1005.6 L1235.5,1011.2 L1236.5,1003.8 L1236.5,1005.1 L1237.5,1006.7 L1237.5,1010.0 L1237.5,1009.3 L1238.5,1007.3 L1238.5,1007.1 L1239.5,1007.4 L1239.5,1010.1 L1240.5,1005.7 L1240.5,1002.0 L1241.5,1008.7 L1241.5,1005.2 L1242.5,1008.2 L1242.5,1012.0 L1243.5,1008.6 L1243.5,1013.3 L1244.5,1004.2 L1244.5,1009.1 L1244.5,1009.5 L1245.5,1010.7 L1245.5,1006.5 L1246.5,1008.9 L1246.5,1008.8 L1247.5,1008.7 L1247.5,1004.8 L1248.5,1003.8 L1248.5,1009.7 L1249.5,1009.0 L1249.5,1008.0 L1250.5,1009.2 L1250.5,1009.9 L1250.5,1003.4 L1251.5,1007.7 L1251.5,1008.5 L1252.5,1006.0 L1252.5,1003.4 L1253.5,1001.9 L1253.5,994.6 L1254.5,995.4 L1254.5,995.9 L1255.5,994.2 L1255.5,992.0 L1256.5,991.4 L1256.5,991.4 L1256.5,991.6 L1257.5,993.6 L1257.5,994.8 L1257.5,994.8 L1258.5,999.0 L1258.5,1000.6 L1259.5,1007.6 L1259.5,1004.5 L1260.5,1004.4 L1260.5,1005.2 L1261.5,1003.2 L1261.5,1004.5 L1262.5,1005.6 L1262.5,1006.1 L1263.5,1009.1 L1263.5,1009.1 L1263.5,1011.5 L1264.5,1013.1 L1264.5,1009.6 L1265.5,1008.8 L1265.5,1004.5 L1266.5,1010.4 L1266.5,1011.2 L1267.5,1007.5 L1267.5,1008.5 L1268.5,1007.7 L1268.5,1012.3 L1269.5,1011.2 L1269.5,1012.8 L1270.5,1006.4 L1270.5,1016.6 L1270.5,1007.3 L1271.5,1006.9 L1271.5,1010.0 L1272.5,1008.1 L1272.5,1014.3 L1273.5,1008.4 L1273.5,1006.2 L1274.5,1014.0 L1274.5,1012.5 L1275.5,1007.0 L1275.5,1007.8 L1276.5,1007.9 L1276.5,1008.2 L1276.5,1012.9 L1277.5,1011.4 L1277.5,1010.6 L1278.5,1010.8 L1278.5,1007.1 L1279.5,1008.8 L1279.5,1005.7 L1280.5,1003.5 L1280.5,1009.2 L1281.5,999.7 L1281.5,1003.6 L1282.5,1001.1 L1282.5,1000.0 L1283.5,1001.5 L1283.5,1001.6 L1283.5,1001.3 L1284.5,1001.0 L1284.5,1001.0 L1284.5,1001.0 L1285.5,1001.3 L1285.5,1000.3 L1286.5,1001.4 L1286.5,1001.5 L1287.5,1003.9 L1287.5,1001.9 L1288.5,1002.8 L1288.5,1001.7 L1289.5,1002.2 L1289.5,1003.5 L1289.5,1008.9 L1290.5,1004.1 L1290.5,1001.0 L1291.5,1008.5 L1291.5,1006.9 L1292.5,1009.8 L1292.5,1009.9 L1293.5,1007.9 L1293.5,1007.8 L1294.5,1006.4 L1294.5,1009.1 L1295.5,1007.2 L1295.5,1009.8 L1296.5,1012.9 L1296.5,1007.6 L1296.5,1007.7 L1297.5,1007.7 L1297.5,1010.9 L1298.5,1012.3 L1298.5,1013.0 L1299.5,1011.0 L1299.5,1009.5 L1300.5,1010.2 L1300.5,1005.5 L1301.5,1010.2 L1301.5,1009.0 L1302.5,1018.1 L1302.5,1011.7 L1302.5,1005.8 L1303.5,1006.2 L1303.5,1009.6 L1304.5,1001.7 L1304.5,1002.4 L1305.5,1007.3 L1305.5,1007.4 L1306.5,1006.1 L1306.5,1007.1 L1307.5,1004.9 L1307.5,1005.0 L1308.5,1004.7 L1308.5,1004.7 L1309.5,1004.7 L1309.5,1004.7 L1309.5,1004.8 L1309.5,1003.8 L1310.5,1005.2 L1310.5,1004.7 L1311.5,1004.7 L1311.5,1006.0 L1312.5,1005.3 L1312.5,1010.7 L1313.5,1010.2 L1313.5,1009.6 L1314.5,1012.1 L1314.5,1008.9 L1315.5,1008.4 L1315.5,1002.6 L1315.5,1007.9 L1316.5,1012.2 L1316.5,1011.2 L1317.5,1008.2 L1317.5,1009.9 L1318.5,1012.5 L1318.5,1009.5 L1319.5,1017.5 L1319.5,1006.6 L1320.5,1013.8 L1320.5,1012.0 L1321.5,1010.7 L1321.5,1011.1 L1322.5,1011.8 L1322.5,1004.6 L1322.5,1011.7 L1323.5,1013.4 L1323.5,1012.4 L1324.5,1013.5 L1324.5,1005.1 L1325.5,1010.4 L1325.5,1012.2 L1326.5,1010.0 L1326.5,1013.7 L1327.5,1011.9 L1327.5,1009.4 L1328.5,1012.8 L1328.5,1012.9 L1328.5,1008.8 L1329.5,1012.5 L1329.5,1011.9 L1330.5,1011.9 L1330.5,1007.8 L1331.5,1014.3 L1331.5,1012.7 L1332.5,1011.0 L1332.5,1012.0 L1333.5,1012.0 L1333.5,1009.8 L1334.5,1009.7 L1334.5,1011.5 L1335.5,1009.8 L1335.5,1010.1 L1335.5,1008.4 L1336.5,1010.7 L1336.5,1014.0 L1337.5,1012.0 L1337.5,1011.6 L1338.5,1010.7 L1338.5,1009.5 L1339.5,1004.6 L1339.5,1019.1 L1340.5,1009.6 L1340.5,1007.6 L1341.5,1012.4 L1341.5,1012.5 L1341.5,1010.0 L1342.5,1007.4 L1342.5,1007.5 L1343.5,1018.0 L1343.5,1010.1 L1344.5,1008.7 L1344.5,1014.8 L1345.5,1008.3 L1345.5,1006.9 L1346.5,1010.2 L1346.5,1009.3 L1347.5,1011.8 L1347.5,1003.2 L1348.5,1007.3 L1348.5,1001.6 L1348.5,1006.4 L1349.5,1003.2 L1349.5,1003.1 L1350.5,1001.3 L1350.5,1003.7 L1351.5,1003.6 L1351.5,1001.8 L1352.5,1001.6 L1352.5,1001.5 L1352.5,1001.5 L1353.5,1001.5 L1353.5,1002.8 L1354.5,1001.9 L1354.5,1004.1 L1354.5,1003.3 L1355.5,1001.3 L1355.5,1001.0 L1356.5,1003.8 L1356.5,1003.6 L1357.5,1005.4 L1357.5,1003.8 L1358.5,1013.2 L1358.5,1013.2 L1359.5,1003.7 L1359.5,1010.0 L1360.5,1012.2 L1360.5,1008.7 L1361.5,1008.8 L1361.5,1012.9 L1361.5,1011.7 L1362.5,1007.4 L1362.5,1013.8 L1363.5,1009.6 L1363.5,1015.6 L1364.5,1008.6 L1364.5,1000.6 L1365.5,1011.4 L1365.5,1014.2 L1366.5,1012.5 L1366.5,1011.6 L1367.5,1008.9 L1367.5,1013.5 L1368.5,1006.5 L1368.5,1013.2 L1368.5,1008.1 L1369.5,1009.7 L1369.5,1007.8 L1370.5,1008.8 L1370.5,1014.9 L1371.5,1008.1 L1371.5,1011.6 L1372.5,1009.0 L1372.5,1013.7 L1373.5,1007.6 L1373.5,1011.1 L1374.5,1013.4 L1374.5,1016.8 L1374.5,1008.1 L1375.5,1008.8 L1375.5,1010.9 L1376.5,1014.8 L1376.5,1008.4 L1377.5,1013.1 L1377.5,1009.4 L1378.5,1008.3 L1378.5,1006.8 L1379.5,1011.1 L1379.5,1013.1 L1380.5,1009.9 L1380.5,1004.9 L1381.5,1007.3 L1381.5,1012.2 L1381.5,1011.6 L1382.5,1009.6 L1382.5,1012.2 L1383.5,1001.9 L1383.5,1001.4 L1384.5,1012.6 L1384.5,1007.4 L1385.5,1004.3 L1385.5,1002.7 L1386.5,996.8 L1386.5,1003.9 L1387.5,997.9 L1387.5,998.0 L1387.5,999.8 L1388.5,1000.1 L1388.5,998.8 L1389.5,998.8 L1389.5,998.8 L1389.5,998.9 L1390.5,998.6 L1390.5,1001.1 L1391.5,999.3 L1391.5,1001.9 L1392.5,998.2 L1392.5,1006.7 L1393.5,1004.9 L1393.5,1009.9 L1394.5,1004.1 L1394.5,1009.2 L1394.5,1007.0 L1395.5,1008.1 L1395.5,1012.1 L1396.5,1007.1 L1396.5,1011.8 L1397.5,1015.4 L1397.5,1015.2 L1398.5,1015.9 L1398.5,1012.2 L1399.5,1009.2 L1399.5,1015.5 L1400.5,1010.3 L1400.5,1015.2 L1400.5,1011.4 L1401.5,1012.3 L1401.5,1012.4 L1402.5,1014.0 L1402.5,1011.5 L1403.5,1013.1 L1403.5,1011.3 L1404.5,1014.0 L1404.5,1013.4 L1405.5,1014.5 L1405.5,1008.8 L1406.5,1013.5 L1406.5,1012.8 L1407.5,1015.3 L1407.5,1012.8 L1407.5,1010.2 L1408.5,1014.5 L1408.5,1011.0 L1409.5,1013.4 L1409.5,1003.1 L1410.5,1013.9 L1410.5,1014.3 L1411.5,1010.2 L1411.5,1014.0 L1412.5,1011.5 L1412.5,1018.5 L1413.5,1014.0 L1413.5,1006.4 L1413.5,1011.5 L1414.5,1007.4 L1414.5,1010.8 L1415.5,1012.7 L1415.5,1013.0 L1416.5,1010.2 L1416.5,1009.3 L1417.5,1009.7 L1417.5,1007.0 L1418.5,1009.0 L1418.5,1009.4 L1419.5,1005.9 L1419.5,1008.0 L1420.5,1000.9 L1420.5,1000.4 L1420.5,1000.8 L1421.5,1001.8 L1421.5,998.8 L1422.5,997.9 L1422.5,996.2 L1423.5,995.9 L1423.5,995.9 L1423.5,996.0 L1424.5,995.7 L1424.5,998.1 L1425.5,998.7 L1425.5,1001.2 L1426.5,1002.1 L1426.5,999.8 L1426.5,1001.5 L1427.5,1005.1 L1427.5,1009.6 L1428.5,1008.5 L1428.5,1005.5 L1429.5,1007.3 L1429.5,1007.7 L1430.5,1009.6 L1430.5,1010.2 L1431.5,1009.8 L1431.5,1011.3 L1432.5,1007.6 L1432.5,1015.5 L1433.5,1012.3 L1433.5,1015.6 L1433.5,1012.5 L1434.5,1011.3 L1434.5,1011.9 L1435.5,1012.1 L1435.5,1009.7 L1436.5,1010.1 L1436.5,1015.4 L1437.5,1012.5 L1437.5,1008.3 L1438.5,1010.2 L1438.5,1006.0 L1439.5,1010.5 L1439.5,1001.5 L1439.5,1006.9 L1440.5,1003.3 L1440.5,1001.9 L1441.5,998.1 L1441.5,997.8 L1442.5,995.1 L1442.5,993.5 L1443.5,994.1 L1443.5,994.7 L1444.5,990.7 L1444.5,990.3 L1445.5,989.6 L1445.5,989.5 L1445.5,989.5 L1446.5,990.0 L1446.5,991.3 L1446.5,992.0 L1447.5,993.4 L1447.5,992.5 L1448.5,995.7 L1448.5,1002.3 L1449.5,990.1 L1449.5,1002.9 L1450.5,1007.2 L1450.5,1007.1 L1451.5,1008.7 L1451.5,1006.7 L1452.5,1011.7 L1452.5,1015.1 L1452.5,1010.7 L1453.5,1015.7 L1453.5,1011.0 L1454.5,1006.6 L1454.5,1013.1 L1455.5,1013.2 L1455.5,1011.7 L1456.5,1012.9 L1456.5,1011.9 L1457.5,1009.9 L1457.5,1019.9 L1458.5,1014.6 L1458.5,1021.2 L1459.5,1014.6 L1459.5,1015.6 L1459.5,1011.0 L1460.5,1017.1 L1460.5,1011.9 L1461.5,1015.7 L1461.5,1018.4 L1462.5,1015.9 L1462.5,1011.6 L1463.5,1009.8 L1463.5,1014.5 L1464.5,1014.9 L1464.5,1014.8 L1465.5,1010.3 L1465.5,1009.0 L1465.5,1012.5 L1466.5,1005.5 L1466.5,1007.5 L1467.5,1003.2 L1467.5,1000.7 L1468.5,1000.5 L1468.5,1001.2 L1469.5,1000.1 L1469.5,999.5 L1470.5,999.4 L1470.5,999.4 L1470.5,999.7 L1471.5,1000.2 L1471.5,999.7 L1472.5,1001.3 L1472.5,1006.4 L1472.5,1003.3 L1473.5,1007.6 L1473.5,1007.4 L1474.5,1012.1 L1474.5,1008.0 L1475.5,1008.1 L1475.5,1013.2 L1476.5,1011.2 L1476.5,1013.5 L1477.5,1013.5 L1477.5,1018.9 L1478.5,1015.8 L1478.5,1015.8 L1478.5,1013.4 L1479.5,1012.1 L1479.5,1014.0 L1480.5,1018.2 L1480.5,1018.0 L1481.5,1017.8 L1481.5,1015.5 L1482.5,1014.0 L1482.5,1019.3 L1483.5,1017.0 L1483.5,1017.9 L1484.5,1014.4 L1484.5,1015.0 L1485.5,1018.2 L1485.5,1018.5 L1485.5,1014.3 L1486.5,1017.4 L1486.5,1013.9 L1487.5,1019.6 L1487.5,1018.3 L1488.5,1022.2 L1488.5,1020.3 L1489.5,1015.1 L1489.5,1017.1 L1490.5,1015.5 L1490.5,1017.2 L1491.5,1018.4 L1491.5,1016.5 L1491.5,1016.6 L1492.5,1013.1 L1492.5,1017.5 L1493.5,1015.9 L1493.5,1017.2 L1494.5,1017.9 L1494.5,1015.2 L1495.5,1017.8 L1495.5,1013.0 L1496.5,1016.3 L1496.5,1013.5 L1497.5,1011.6 L1497.5,1012.0 L1498.5,1008.9 L1498.5,1010.3 L1498.5,1010.3 L1499.5,1010.5 L1499.5,1010.0 L1500.5,1009.5 L1500.5,1009.6 L1501.5,1009.5 L1501.5,1009.5 L1501.5,1009.6 L1502.5,1010.0 L1502.5,1010.8 L1503.5,1010.2 L1503.5,1010.7 L1504.5,1010.5 L1504.5,1010.8 L1504.5,1012.6 L1505.5,1016.1 L1505.5,1009.4 L1506.5,1011.7 L1506.5,1014.9 L1507.5,1012.3 L1507.5,1016.0 L1508.5,1012.0 L1508.5,1014.7 L1509.5,1011.9 L1509.5,1016.6 L1510.5,1014.3 L1510.5,1017.8 L1511.5,1015.6 L1511.5,1014.2 L1511.5,1015.5 L1512.5,1016.8 L1512.5,1016.6 L1513.5,1015.5 L1513.5,1015.8 L1514.5,1016.7 L1514.5,1018.7 L1515.5,1014.2 L1515.5,1018.5 L1516.5,1013.6 L1516.5,1018.9 L1517.5,1017.6 L1517.5,1015.9 L1517.5,1016.0 L1518.5,1009.5 L1518.5,1017.0 L1519.5,1016.2 L1519.5,1013.5 L1520.5,1015.7 L1520.5,1018.1 L1521.5,1017.2 L1521.5,1017.4 L1522.5,1015.5 L1522.5,1018.8 L1523.5,1016.7 L1523.5,1020.3 L1524.5,1022.0 L1524.5,1008.3 L1524.5,1015.7 L1525.5,1016.9 L1525.5,1015.1 L1526.5,1019.3 L1526.5,1016.1 L1527.5,1020.8 L1527.5,1018.7 L1528.5,1018.6 L1528.5,1016.9 L1529.5,1018.9 L1529.5,1018.1 L1530.5,1020.4 L1530.5,1018.7 L1530.5,1021.3 L1531.5,1017.9 L1531.5,1017.8 L1532.5,1013.4 L1532.5,1017.0 L1533.5,1017.9 L1533.5,1012.1 L1534.5,1011.2 L1534.5,1015.8 L1535.5,1017.7 L1535.5,1013.1 L1536.5,1018.4 L1536.5,1021.1 L1537.5,1016.5 L1537.5,1017.6 L1537.5,1018.2 L1538.5,1014.3 L1538.5,1018.5 L1539.5,1019.0 L1539.5,1014.2 L1540.5,1018.3 L1540.5,1019.2 L1541.5,1014.7 L1541.5,1019.2 L1542.5,1016.6 L1542.5,1014.1 L1543.5,1014.8 L1543.5,1015.2 L1543.5,1018.5 L1544.5,1015.3 L1544.5,1016.4 L1545.5,1014.4 L1545.5,1017.4 L1546.5,1014.5 L1546.5,1015.8 L1547.5,1018.8 L1547.5,1018.9 L1548.5,1016.2 L1548.5,1017.3 L1549.5,1018.7 L1549.5,1017.4 L1550.5,1020.3 L1550.5,1020.6 L1550.5,1017.3 L1551.5,1014.7 L1551.5,1017.2 L1552.5,1020.7 L1552.5,1020.2 L1553.5,1020.3 L1553.5,1020.2 L1554.5,1015.5 L1554.5,1018.8 L1555.5,1020.1 L1555.5,1018.2 L1556.5,1019.6 L1556.5,1015.3 L1556.5,1014.8 L1557.5,1022.2 L1557.5,1019.4 L1558.5,1019.0 L1558.5,1021.0 L1559.5,1022.7 L1559.5,1024.2 L1560.5,1012.0 L1560.5,1018.5 L1561.5,1020.0 L1561.5,1013.2 L1562.5,1013.5 L1562.5,1016.9 L1563.5,1025.5 L1563.5,1019.8 L1563.5,1022.6 L1564.5,1018.8 L1564.5,1020.1 L1565.5,1021.1 L1565.5,1018.6 L1566.5,1017.5 L1566.5,1017.8 L1567.5,1009.0 L1567.5,1018.3 L1568.5,1009.8 L1568.5,1015.6 L1569.5,1019.1 L1569.5,1018.4 L1569.5,1012.8 L1570.5,1019.6 L1570.5,1019.1 L1571.5,1017.8 L1571.5,1018.9 L1572.5,1018.6 L1572.5,1013.3 L1573.5,1016.7 L1573.5,1016.5 L1574.5,1014.3 L1574.5,1017.0 L1575.5,1015.1 L1575.5,1016.8 L1576.5,1015.0 L1576.5,1019.3 L1576.5,1022.0 L1577.5,1015.5 L1577.5,1016.9 L1578.5,1016.9 L1578.5,1017.8 L1579.5,1016.3 L1579.5,1011.5 L1580.5,1017.4 L1580.5,1016.3 L1581.5,1014.1 L1581.5,1016.1 L1582.5,1015.3 L1582.5,1017.0 L1582.5,1015.7 L1583.5,1015.7 L1583.5,1016.6" fill="none" stroke="#505050" stroke-width="2.0" stroke-linejoin="round" shape-rendering="crispEdges"/>
<path d="M190.5,543.4 L191.5,543.5 L191.5,543.3 L191.5,542.9 L192.5,543.4 L192.5,543.3 L193.5,542.8 L193.5,543.6 L194.5,543.4 L194.5,543.3 L195.5,543.1 L195.5,543.4 L196.5,542.4 L196.5,542.8 L197.5,542.5 L197.5,543.3 L198.5,542.8 L198.5,542.5 L198.5,542.0 L199.5,542.3 L199.5,542.4 L200.5,542.1 L200.5,543.1 L201.5,542.7 L201.5,539.7 L202.5,539.9 L202.5,540.6 L203.5,539.5 L203.5,538.7 L204.5,536.9 L204.5,535.9 L204.5,530.5 L205.5,527.3 L205.5,524.9 L206.5,519.4 L206.5,515.0 L207.5,511.2 L207.5,509.1 L208.5,508.6 L208.5,508.7 L208.5,510.1 L209.5,513.0 L209.5,517.2 L210.5,521.0 L210.5,525.9 L211.5,529.9 L211.5,533.1 L211.5,535.3 L212.5,538.1 L212.5,539.8 L213.5,540.4 L213.5,540.2 L214.5,541.8 L214.5,541.2 L215.5,542.4 L215.5,541.1 L216.5,542.7 L216.5,542.1 L217.5,541.2 L217.5,542.0 L217.5,542.3 L218.5,542.5 L218.5,541.6 L219.5,541.6 L219.5,542.6 L220.5,542.1 L220.5,542.6 L221.5,543.0 L221.5,541.2 L222.5,542.7 L222.5,543.4 L223.5,542.3 L223.5,541.9 L224.5,543.1 L224.5,542.7 L224.5,543.2 L225.5,542.2 L225.5,541.4 L226.5,542.4 L226.5,542.2 L227.5,543.1 L227.5,542.6 L228.5,541.3 L228.5,541.6 L229.5,543.1 L229.5,543.0 L230.5,542.0 L230.5,542.4 L230.5,542.8 L231.5,542.8 L231.5,543.1 L232.5,542.6 L232.5,542.3 L233.5,542.2 L233.5,543.2 L234.5,540.7 L234.5,542.3 L235.5,542.4 L235.5,541.3 L236.5,542.6 L236.5,541.9 L237.5,543.0 L237.5,542.2 L237.5,542.8 L238.5,543.2 L238.5,542.6 L239.5,541.7 L239.5,541.2 L240.5,543.6 L240.5,542.2 L241.5,541.8 L241.5,542.4 L242.5,542.1 L242.5,542.9 L243.5,542.3 L243.5,542.3 L243.5,541.7 L244.5,542.6 L244.5,541.5 L245.5,542.7 L245.5,543.4 L246.5,541.1 L246.5,540.3 L247.5,542.7 L247.5,544.1 L248.5,541.4 L248.5,541.2 L249.5,542.6 L249.5,541.5 L250.5,541.8 L250.5,541.9 L250.5,542.5 L251.5,541.8 L251.5,542.3 L252.5,542.0 L252.5,541.5 L253.5,541.9 L253.5,541.4 L254.5,542.1 L254.5,541.3 L255.5,541.3 L255.5,543.2 L256.5,542.1 L256.5,542.1 L256.5,542.5 L257.5,541.8 L257.5,542.0 L258.5,542.5 L258.5,542.4 L259.5,541.3 L259.5,542.8 L260.5,541.7 L260.5,541.3 L261.5,541.5 L261.5,541.8 L262.5,543.4 L262.5,541.3 L263.5,542.3 L263.5,540.5 L263.5,542.1 L264.5,542.8 L264.5,542.0 L265.5,541.7 L265.5,542.3 L266.5,542.7 L266.5,542.7 L267.5,543.7 L267.5,542.4 L268.5,541.8 L268.5,542.1 L269.5,542.2 L269.5,542.3 L269.5,542.2 L270.5,542.4 L270.5,541.0 L271.5,542.9 L271.5,541.9 L272.5,541.4 L272.5,542.8 L273.5,543.3 L273.5,542.7 L274.5,542.5 L274.5,541.7 L275.5,544.5 L275.5,543.1 L276.5,541.6 L276.5,541.8 L276.5,542.5 L277.5,541.3 L277.5,542.6 L278.5,542.1 L278.5,543.4 L279.5,543.2 L279.5,540.5 L280.5,542.6 L280.5,541.3 L281.5,543.4 L281.5,542.7 L282.5,543.0 L282.5,541.8 L282.5,544.0 L283.5,544.2 L283.5,541.9 L284.5,543.0 L284.5,542.2 L285.5,542.7 L285.5,541.8 L286.5,544.2 L286.5,542.1 L287.5,542.6 L287.5,543.3 L288.5,542.4 L288.5,542.7 L289.5,542.5 L289.5,542.9 L289.5,542.1 L290.5,542.7 L290.5,542.9 L291.5,542.8 L291.5,543.1 L292.5,542.9 L292.5,543.7 L293.5,542.9 L293.5,543.1 L294.5,542.7 L294.5,542.8 L295.5,542.3 L295.5,543.7 L295.5,542.4 L296.5,542.8 L296.5,543.6 L297.5,543.7 L297.5,543.1 L298.5,541.9 L298.5,543.7 L299.5,543.7 L299.5,542.4 L300.5,544.1 L300.5,543.0 L301.5,542.7 L301.5,543.6 L302.5,543.5 L302.5,543.8 L302.5,542.4 L303.5,545.0 L303.5,543.2 L304.5,542.6 L304.5,544.2 L305.5,543.5 L305.5,544.0 L306.5,543.6 L306.5,543.8 L307.5,544.1 L307.5,543.3 L308.5,544.4 L308.5,543.6 L308.5,543.3 L309.5,544.0 L309.5,544.3 L310.5,543.9 L310.5,543.4 L311.5,544.5 L311.5,542.8 L312.5,543.3 L312.5,544.2 L313.5,543.1 L313.5,544.2 L314.5,544.1 L314.5,544.9 L315.5,543.5 L315.5,543.8 L315.5,544.5 L316.5,542.4 L316.5,546.6 L317.5,543.8 L317.5,543.8 L318.5,545.0 L318.5,544.3 L319.5,543.0 L319.5,544.8 L320.5,545.0 L320.5,544.1 L321.5,544.2 L321.5,544.8 L321.5,543.8 L322.5,544.8 L322.5,544.6 L323.5,544.0 L323.5,543.5 L324.5,544.4 L324.5,543.9 L325.5,545.3 L325.5,544.7 L326.5,545.2 L326.5,544.7 L327.5,544.8 L327.5,544.0 L328.5,545.1 L328.5,546.0 L328.5,544.4 L329.5,544.2 L329.5,544.5 L330.5,544.3 L330.5,544.1 L331.5,544.8 L331.5,544.5 L332.5,545.8 L332.5,544.7 L333.5,544.9 L333.5,545.4 L334.5,544.5 L334.5,545.8 L334.5,544.2 L335.5,544.1 L335.5,544.4 L336.5,544.6 L336.5,543.6 L337.5,544.7 L337.5,543.4 L338.5,545.7 L338.5,544.6 L339.5,544.1 L339.5,543.9 L340.5,544.3 L340.5,544.4 L341.5,543.7 L341.5,543.7 L341.5,544.1 L342.5,543.6 L342.5,544.3 L343.5,543.9 L343.5,542.3 L344.5,541.5 L344.5,538.7 L345.5,538.5 L345.5,535.9 L346.5,534.1 L346.5,532.3 L347.5,529.9 L347.5,529.4 L347.5,529.3 L347.5,529.5 L348.5,530.4 L348.5,532.2 L349.5,534.6 L349.5,537.1 L350.5,538.7 L350.5,539.8 L351.5,541.3 L351.5,543.4 L352.5,543.5 L352.5,542.7 L353.5,545.0 L353.5,544.9 L354.5,545.4 L354.5,544.6 L354.5,545.5 L355.5,544.2 L355.5,545.5 L356.5,544.7 L356.5,545.6 L357.5,545.9 L357.5,544.6 L358.5,545.2 L358.5,545.3 L359.5,546.2 L359.5,545.8 L360.5,544.4 L360.5,545.7 L360.5,545.9 L361.5,547.0 L361.5,544.2 L362.5,545.0 L362.5,546.5 L363.5,544.5 L363.5,544.6 L364.5,545.9 L364.5,546.3 L365.5,545.0 L365.5,546.0 L366.5,545.7 L366.5,546.7 L367.5,545.6 L367.5,546.4 L367.5,545.0 L368.5,545.5 L368.5,545.6 L369.5,546.5 L369.5,546.1 L370.5,545.2 L370.5,546.2 L371.5,546.3 L371.5,545.7 L372.5,545.6 L372.5,545.6 L373.5,544.5 L373.5,546.0 L373.5,546.0 L374.5,545.2 L374.5,546.4 L375.5,544.8 L375.5,545.5 L376.5,545.5 L376.5,547.4 L377.5,544.7 L377.5,546.4 L378.5,546.7 L378.5,546.2 L379.5,546.9 L379.5,545.2 L380.5,544.3 L380.5,546.6 L380.5,545.1 L381.5,545.8 L381.5,545.1 L382.5,546.8 L382.5,546.7 L383.5,545.5 L383.5,546.7 L384.5,546.1 L384.5,546.0 L385.5,546.1 L385.5,545.9 L386.5,546.5 L386.5,546.3 L386.5,545.7 L387.5,546.7 L387.5,545.5 L388.5,546.0 L388.5,546.0 L389.5,546.5 L389.5,544.7 L390.5,545.9 L390.5,544.0 L391.5,542.8 L391.5,541.3 L392.5,541.0 L392.5,539.3 L393.5,537.9 L393.5,537.3 L393.5,537.0 L394.5,537.0 L394.5,537.3 L394.5,538.4 L395.5,539.6 L395.5,540.8 L396.5,541.5 L396.5,543.0 L397.5,544.6 L397.5,546.3 L398.5,546.0 L398.5,545.5 L399.5,546.0 L399.5,545.8 L399.5,545.7 L400.5,546.3 L400.5,546.6 L401.5,547.9 L401.5,546.6 L402.5,547.6 L402.5,548.0 L403.5,546.7 L403.5,547.9 L404.5,547.3 L404.5,546.4 L405.5,547.0 L405.5,546.8 L406.5,546.7 L406.5,546.7 L406.5,547.0 L407.5,547.2 L407.5,546.3 L408.5,546.9 L408.5,545.8 L409.5,547.2 L409.5,547.5 L410.5,547.1 L410.5,547.3 L411.5,547.5 L411.5,546.6 L412.5,546.9 L412.5,547.5 L412.5,547.9 L413.5,547.4 L413.5,549.1 L414.5,547.1 L414.5,547.9 L415.5,548.2 L415.5,547.1 L416.5,546.6 L416.5,546.4 L417.5,547.4 L417.5,548.1 L418.5,547.5 L418.5,547.5 L419.5,547.1 L419.5,547.8 L419.5,545.8 L420.5,547.6 L420.5,547.4 L421.5,546.4 L421.5,549.1 L422.5,546.4 L422.5,546.7 L423.5,546.6 L423.5,548.3 L424.5,546.8 L424.5,548.0 L425.5,548.0 L425.5,547.8 L426.5,546.6 L426.5,547.1 L426.5,548.9 L427.5,546.6 L427.5,547.0 L428.5,547.5 L428.5,548.3 L429.5,547.9 L429.5,548.2 L430.5,546.9 L430.5,548.4 L431.5,548.2 L431.5,546.5 L432.5,548.9 L432.5,549.5 L432.5,547.2 L433.5,547.8 L433.5,548.9 L434.5,546.7 L434.5,546.3 L435.5,546.9 L435.5,547.4 L436.5,547.4 L436.5,548.3 L437.5,548.1 L437.5,547.0 L438.5,548.3 L438.5,549.3 L439.5,548.8 L439.5,548.7 L439.5,548.0 L440.5,548.7 L440.5,547.3 L441.5,548.6 L441.5,547.9 L442.5,548.9 L442.5,548.4 L443.5,547.2 L443.5,548.1 L444.5,549.0 L444.5,547.2 L445.5,547.6 L445.5,547.5 L445.5,546.9 L446.5,548.8 L446.5,549.1 L447.5,548.7 L447.5,548.3 L448.5,548.0 L448.5,548.2 L449.5,547.5 L449.5,548.7 L450.5,548.8 L450.5,548.7 L451.5,547.6 L451.5,548.1 L452.5,547.9 L452.5,549.3 L452.5,548.1 L453.5,546.5 L453.5,548.2 L454.5,549.3 L454.5,548.3 L455.5,548.4 L455.5,547.6 L456.5,546.0 L456.5,545.9 L457.5,546.0 L457.5,546.3 L458.5,545.8 L458.5,544.9 L458.5,542.3 L459.5,540.8 L459.5,536.8 L460.5,532.8 L460.5,529.9 L461.5,525.5 L461.5,522.7 L462.5,521.6 L462.5,521.6 L462.5,522.3 L463.5,524.5 L463.5,527.9 L464.5,531.0 L464.5,534.7 L465.5,538.8 L465.5,541.4 L465.5,544.8 L466.5,545.6 L466.5,545.1 L467.5,546.3 L467.5,547.9 L468.5,549.0 L468.5,548.1 L469.5,548.1 L469.5,549.4 L470.5,548.1 L470.5,547.9 L471.5,547.1 L471.5,547.9 L471.5,549.9 L472.5,547.2 L472.5,548.3 L473.5,547.3 L473.5,548.5 L474.5,549.1 L474.5,548.2 L475.5,549.0 L475.5,549.0 L476.5,548.8 L476.5,549.7 L477.5,549.0 L477.5,548.2 L478.5,547.9 L478.5,547.8 L478.5,548.7 L479.5,548.1 L479.5,550.3 L480.5,549.6 L480.5,548.0 L481.5,547.8 L481.5,549.2 L482.5,546.3 L482.5,547.1 L483.5,547.6 L483.5,545.3 L484.5,544.4 L484.5,542.7 L484.5,540.9 L485.5,537.4 L485.5,534.0 L486.5,530.1 L486.5,526.2 L487.5,523.5 L487.5,522.3 L487.5,522.3 L488.5,523.1 L488.5,525.1 L489.5,528.8 L489.5,533.7 L490.5,536.8 L490.5,539.5 L491.5,541.8 L491.5,544.2 L491.5,545.7 L492.5,546.5 L492.5,546.5 L493.5,547.6 L493.5,549.0 L494.5,546.8 L494.5,548.4 L495.5,547.0 L495.5,548.9 L496.5,548.2 L496.5,547.3 L497.5,549.0 L497.5,550.3 L497.5,549.1 L498.5,549.9 L498.5,549.0 L499.5,547.5 L499.5,549.5 L500.5,548.9 L500.5,548.1 L501.5,549.8 L501.5,549.5 L502.5,548.9 L502.5,550.0 L503.5,548.7 L503.5,549.8 L504.5,548.7 L504.5,549.8 L504.5,548.6 L505.5,550.5 L505.5,549.6 L506.5,550.5 L506.5,548.9 L507.5,549.1 L507.5,550.2 L508.5,547.5 L508.5,548.8 L509.5,550.4 L509.5,550.0 L510.5,550.4 L510.5,549.4 L510.5,550.1 L511.5,549.1 L511.5,548.7 L512.5,548.4 L512.5,549.3 L513.5,549.3 L513.5,549.3 L514.5,547.1 L514.5,548.3 L515.5,549.4 L515.5,550.0 L516.5,549.4 L516.5,549.2 L517.5,548.1 L517.5,551.4 L517.5,549.1 L518.5,551.2 L518.5,551.1 L519.5,550.2 L519.5,549.5 L520.5,550.1 L520.5,549.1 L521.5,550.2 L521.5,550.0 L522.5,550.5 L522.5,550.8 L523.5,551.4 L523.5,549.8 L523.5,550.9 L524.5,549.6 L524.5,549.5 L525.5,549.8 L525.5,549.5 L526.5,551.0 L526.5,551.0 L527.5,551.3 L527.5,550.3 L528.5,550.5 L528.5,549.9 L529.5,549.5 L529.5,550.7 L530.5,550.6 L530.5,549.6 L530.5,550.9 L531.5,549.1 L531.5,550.3 L532.5,550.0 L532.5,550.1 L533.5,549.7 L533.5,551.2 L534.5,550.9 L534.5,551.4 L535.5,550.6 L535.5,549.5 L536.5,550.2 L536.5,549.6 L536.5,550.9 L537.5,551.4 L537.5,550.8 L538.5,550.1 L538.5,550.2 L539.5,550.6 L539.5,549.3 L540.5,550.5 L540.5,550.4 L541.5,549.6 L541.5,549.4 L542.5,549.4 L542.5,547.9 L543.5,546.9 L543.5,546.6 L543.5,544.5 L544.5,543.4 L544.5,539.9 L545.5,538.4 L545.5,537.6 L546.5,537.5 L546.5,537.6 L546.5,538.3 L547.5,540.1 L547.5,540.9 L548.5,543.6 L548.5,543.7 L549.5,546.4 L549.5,545.8 L549.5,547.6 L550.5,549.0 L550.5,547.5 L551.5,547.9 L551.5,546.1 L552.5,544.8 L552.5,542.5 L553.5,541.4 L553.5,535.9 L554.5,529.7 L554.5,516.7 L555.5,502.3 L555.5,483.2 L556.5,461.4 L556.5,437.2 L556.5,414.1 L557.5,398.9 L557.5,394.2 L557.5,394.3 L558.5,402.0 L558.5,419.5 L559.5,442.6 L559.5,464.7 L560.5,487.4 L560.5,507.7 L561.5,521.2 L561.5,531.0 L562.5,536.8 L562.5,542.2 L562.5,545.8 L563.5,545.2 L563.5,547.2 L564.5,547.6 L564.5,548.7 L565.5,548.9 L565.5,549.1 L566.5,548.8 L566.5,549.7 L567.5,549.5 L567.5,550.0 L568.5,550.2 L568.5,550.9 L569.5,550.0 L569.5,550.3 L569.5,551.5 L570.5,550.6 L570.5,550.6 L571.5,551.5 L571.5,551.1 L572.5,551.0 L572.5,551.1 L573.5,550.0 L573.5,551.3 L574.5,552.0 L574.5,551.5 L575.5,549.9 L575.5,551.3 L575.5,550.4 L576.5,550.9 L576.5,551.2 L577.5,550.2 L577.5,552.1 L578.5,551.0 L578.5,551.6 L579.5,551.5 L579.5,552.0 L580.5,551.9 L580.5,549.9 L581.5,551.0 L581.5,549.4 L582.5,550.7 L582.5,551.5 L582.5,551.6 L583.5,551.9 L583.5,550.6 L584.5,551.1 L584.5,551.0 L585.5,551.8 L585.5,552.0 L586.5,550.6 L586.5,553.7 L587.5,550.8 L587.5,550.5 L588.5,551.2 L588.5,551.3 L588.5,551.1 L589.5,550.2 L589.5,551.8 L590.5,550.7 L590.5,551.8 L591.5,551.6 L591.5,549.6 L592.5,549.8 L592.5,549.7 L593.5,550.6 L593.5,550.5 L594.5,550.6 L594.5,549.8 L595.5,550.6 L595.5,551.3 L595.5,549.3 L596.5,550.1 L596.5,550.4 L597.5,550.0 L597.5,550.0 L598.5,551.4 L598.5,551.0 L599.5,550.6 L599.5,549.3 L600.5,551.5 L600.5,550.0 L601.5,549.3 L601.5,549.3 L601.5,549.1 L602.5,551.0 L602.5,549.4 L603.5,549.1 L603.5,547.2 L604.5,549.0 L604.5,547.1 L605.5,546.2 L605.5,546.2 L606.5,543.0 L606.5,541.3 L607.5,537.5 L607.5,530.3 L608.5,525.7 L608.5,519.1 L608.5,514.5 L609.5,511.2 L609.5,510.5 L609.5,510.7 L610.5,513.2 L610.5,517.5 L611.5,523.7 L611.5,530.3 L612.5,534.0 L612.5,539.3 L613.5,541.5 L613.5,545.7 L614.5,546.3 L614.5,546.8 L614.5,548.5 L615.5,547.1 L615.5,547.9 L616.5,549.7 L616.5,548.3 L617.5,549.5 L617.5,548.6 L618.5,548.0 L618.5,548.3 L619.5,548.5 L619.5,548.0 L620.5,547.6 L620.5,547.6 L621.5,546.9 L621.5,547.9 L621.5,547.8 L622.5,547.7 L622.5,545.2 L623.5,546.2 L623.5,544.1 L624.5,540.6 L624.5,538.1 L625.5,533.3 L625.5,526.0 L626.5,517.3 L626.5,507.4 L627.5,497.0 L627.5,488.1 L627.5,483.2 L628.5,482.5 L628.5,483.2 L628.5,488.2 L629.5,497.1 L629.5,507.5 L630.5,517.0 L630.5,527.2 L631.5,532.2 L631.5,538.9 L632.5,541.5 L632.5,543.7 L633.5,546.2 L633.5,546.3 L634.5,548.0 L634.5,546.9 L634.5,548.1 L635.5,547.6 L635.5,548.3 L636.5,548.3 L636.5,547.9 L637.5,549.3 L637.5,548.0 L638.5,548.3 L638.5,549.7 L639.5,549.9 L639.5,549.7 L640.5,549.5 L640.5,551.0 L640.5,548.4 L641.5,548.8 L641.5,548.7 L642.5,550.2 L642.5,549.7 L643.5,550.4 L643.5,550.3 L644.5,549.5 L644.5,549.1 L645.5,549.0 L645.5,551.4 L646.5,550.5 L646.5,550.3 L647.5,549.6 L647.5,549.7 L647.5,549.6 L648.5,549.7 L648.5,548.1 L649.5,549.9 L649.5,549.7 L650.5,550.2 L650.5,550.2 L651.5,550.7 L651.5,550.1 L652.5,550.7 L652.5,548.2 L653.5,549.3 L653.5,551.4 L653.5,549.2 L654.5,550.0 L654.5,550.7 L655.5,549.5 L655.5,550.8 L656.5,549.2 L656.5,548.9 L657.5,549.3 L657.5,549.1 L658.5,550.4 L658.5,550.2 L659.5,550.7 L659.5,549.7 L660.5,552.4 L660.5,550.5 L660.5,550.5 L661.5,550.9 L661.5,550.4 L662.5,550.2 L662.5,550.7 L663.5,551.4 L663.5,551.2 L664.5,551.4 L664.5,550.3 L665.5,550.2 L665.5,552.3 L666.5,550.6 L666.5,551.1 L666.5,551.4 L667.5,551.9 L667.5,549.8 L668.5,550.5 L668.5,550.5 L669.5,550.6 L669.5,549.0 L670.5,550.8 L670.5,548.7 L671.5,551.2 L671.5,551.5 L672.5,551.6 L672.5,550.3 L673.5,552.0 L673.5,550.7 L673.5,550.4 L674.5,550.7 L674.5,550.8 L675.5,551.6 L675.5,552.1 L676.5,550.0 L676.5,551.2 L677.5,552.2 L677.5,551.7 L678.5,551.9 L678.5,550.4 L679.5,552.2 L679.5,550.3 L679.5,551.5 L680.5,552.3 L680.5,552.6 L681.5,551.5 L681.5,551.6 L682.5,550.3 L682.5,550.2 L683.5,551.2 L683.5,550.0 L684.5,549.6 L684.5,548.2 L685.5,548.9 L685.5,548.7 L686.5,547.0 L686.5,546.4 L686.5,547.1 L687.5,544.8 L687.5,542.9 L688.5,540.2 L688.5,537.5 L689.5,533.0 L689.5,526.7 L690.5,513.4 L690.5,497.1 L691.5,468.4 L691.5,431.9 L692.5,384.8 L692.5,326.1 L692.5,261.7 L693.5,198.9 L693.5,146.3 L694.5,115.5 L694.5,111.3 L694.5,115.2 L695.5,145.2 L695.5,197.8 L696.5,260.0 L696.5,323.7 L697.5,381.4 L697.5,429.3 L698.5,464.5 L698.5,490.9 L699.5,504.6 L699.5,513.7 L699.5,512.5 L700.5,506.6 L700.5,493.5 L701.5,474.2 L701.5,446.1 L702.5,412.9 L702.5,379.8 L703.5,348.8 L703.5,328.7 L704.5,323.9 L704.5,324.6 L704.5,338.2 L705.5,364.9 L705.5,399.2 L705.5,434.3 L706.5,465.4 L706.5,491.0 L707.5,510.0 L707.5,524.9 L708.5,533.4 L708.5,539.3 L709.5,542.2 L709.5,544.5 L710.5,545.0 L710.5,546.6 L711.5,547.5 L711.5,547.3 L712.5,547.9 L712.5,547.3 L712.5,547.8 L713.5,546.2 L713.5,544.4 L714.5,544.8 L714.5,542.7 L715.5,539.5 L715.5,536.5 L716.5,529.6 L716.5,519.4 L717.5,503.5 L717.5,482.3 L718.5,453.9 L718.5,420.1 L718.5,378.9 L719.5,339.3 L719.5,304.6 L720.5,281.9 L720.5,276.7 L720.5,277.5 L721.5,292.5 L721.5,323.2 L722.5,361.0 L722.5,401.2 L723.5,437.5 L723.5,469.7 L724.5,495.5 L724.5,511.8 L725.5,525.6 L725.5,533.5 L725.5,540.0 L726.5,541.4 L726.5,544.8 L727.5,545.9 L727.5,546.0 L728.5,545.7 L728.5,548.7 L729.5,547.0 L729.5,548.1 L730.5,549.4 L730.5,549.9 L731.5,548.7 L731.5,549.5 L731.5,549.5 L732.5,550.8 L732.5,551.9 L733.5,548.7 L733.5,550.9 L734.5,548.1 L734.5,550.3 L735.5,549.5 L735.5,551.8 L736.5,550.4 L736.5,549.7 L737.5,549.8 L737.5,549.7 L738.5,550.2 L738.5,549.8 L738.5,550.3 L739.5,550.7 L739.5,549.9 L740.5,548.2 L740.5,547.5 L741.5,547.7 L741.5,548.4 L742.5,546.3 L742.5,544.4 L743.5,542.5 L743.5,537.5 L744.5,531.9 L744.5,525.1 L744.5,514.0 L745.5,501.1 L745.5,487.2 L746.5,472.3 L746.5,460.0 L747.5,452.3 L747.5,450.7 L747.5,451.1 L748.5,456.9 L748.5,468.3 L749.5,482.9 L749.5,498.5 L750.5,509.7 L750.5,522.1 L751.5,530.4 L751.5,537.6 L751.5,541.7 L752.5,545.4 L752.5,546.5 L753.5,546.9 L753.5,547.6 L754.5,548.9 L754.5,549.2 L755.5,551.0 L755.5,550.7 L756.5,548.8 L756.5,550.1 L757.5,549.0 L757.5,548.9 L757.5,550.8 L758.5,550.7 L758.5,549.6 L759.5,551.7 L759.5,549.8 L760.5,549.7 L760.5,551.1 L761.5,550.8 L761.5,550.6 L762.5,550.7 L762.5,551.0 L763.5,550.7 L763.5,550.7 L764.5,549.5 L764.5,549.9 L764.5,551.4 L765.5,550.4 L765.5,551.4 L766.5,551.9 L766.5,550.7 L767.5,551.2 L767.5,552.6 L768.5,551.5 L768.5,552.4 L769.5,552.2 L769.5,551.6 L770.5,550.9 L770.5,550.3 L770.5,550.1 L771.5,551.3 L771.5,551.2 L772.5,550.7 L772.5,551.4 L773.5,550.3 L773.5,551.4 L774.5,550.5 L774.5,550.2 L775.5,549.8 L775.5,549.2 L776.5,550.3 L776.5,546.0 L777.5,545.7 L777.5,544.3 L777.5,541.3 L778.5,537.7 L778.5,535.7 L779.5,531.9 L779.5,530.1 L780.5,529.4 L780.5,529.4 L780.5,530.0 L781.5,532.0 L781.5,534.8 L782.5,538.0 L782.5,540.1 L783.5,543.3 L783.5,544.7 L783.5,548.5 L784.5,549.1 L784.5,550.0 L785.5,548.6 L785.5,551.1 L786.5,551.9 L786.5,551.9 L787.5,551.7 L787.5,551.2 L788.5,551.0 L788.5,551.8 L789.5,551.7 L789.5,551.6 L790.5,551.2 L790.5,552.8 L790.5,550.6 L791.5,551.5 L791.5,551.1 L792.5,552.4 L792.5,552.6 L793.5,552.5 L793.5,552.0 L794.5,550.3 L794.5,552.7 L795.5,551.2 L795.5,550.3 L796.5,549.8 L796.5,549.0 L796.5,548.8 L797.5,548.2 L797.5,548.0 L798.5,548.0 L798.5,548.1 L798.5,548.6 L799.5,549.3 L799.5,549.6 L800.5,550.7 L800.5,551.6 L801.5,550.9 L801.5,552.7 L802.5,550.3 L802.5,551.0 L803.5,551.4 L803.5,550.3 L803.5,551.4 L804.5,553.2 L804.5,553.2 L805.5,552.4 L805.5,553.6 L806.5,552.5 L806.5,552.0 L807.5,552.6 L807.5,552.3 L808.5,553.0 L808.5,551.3 L809.5,553.2 L809.5,552.2 L809.5,553.2 L810.5,551.4 L810.5,552.3 L811.5,552.7 L811.5,553.3 L812.5,551.7 L812.5,553.9 L813.5,553.0 L813.5,552.3 L814.5,553.6 L814.5,552.8 L815.5,553.6 L815.5,554.5 L816.5,553.4 L816.5,552.4 L816.5,552.5 L817.5,553.3 L817.5,553.1 L818.5,552.3 L818.5,552.4 L819.5,553.4 L819.5,554.7 L820.5,551.0 L820.5,553.5 L821.5,552.9 L821.5,553.6 L822.5,553.7 L822.5,553.1 L822.5,552.3 L823.5,552.1 L823.5,551.7 L824.5,554.1 L824.5,553.0 L825.5,552.8 L825.5,553.0 L826.5,552.3 L826.5,553.5 L827.5,554.3 L827.5,554.2 L828.5,552.2 L828.5,554.4 L829.5,552.8 L829.5,552.0 L829.5,552.5 L830.5,552.7 L830.5,553.5 L831.5,552.7 L831.5,552.4 L832.5,553.4 L832.5,555.0 L833.5,553.1 L833.5,554.0 L834.5,553.7 L834.5,555.7 L835.5,552.3 L835.5,554.5 L835.5,552.8 L836.5,553.3 L836.5,553.7 L837.5,556.2 L837.5,553.3 L838.5,552.4 L838.5,554.9 L839.5,553.3 L839.5,553.7 L840.5,553.9 L840.5,554.0 L841.5,553.9 L841.5,554.2 L842.5,554.3 L842.5,554.7 L842.5,553.8 L843.5,553.6 L843.5,553.3 L844.5,554.6 L844.5,554.1 L845.5,554.6 L845.5,554.6 L846.5,555.5 L846.5,554.4 L847.5,554.8 L847.5,553.4 L848.5,553.5 L848.5,554.1 L848.5,553.4 L849.5,554.9 L849.5,553.4 L850.5,554.4 L850.5,552.6 L851.5,553.6 L851.5,554.2 L852.5,554.2 L852.5,553.1 L853.5,554.5 L853.5,555.2 L854.5,554.9 L854.5,553.9 L855.5,554.0 L855.5,553.5 L855.5,554.9 L856.5,555.4 L856.5,553.9 L857.5,553.0 L857.5,554.4 L858.5,554.8 L858.5,552.1 L859.5,554.2 L859.5,555.6 L860.5,554.5 L860.5,554.0 L861.5,553.6 L861.5,553.6 L861.5,551.3 L862.5,550.2 L862.5,549.5 L863.5,546.5 L863.5,544.3 L864.5,539.3 L864.5,537.4 L865.5,533.5 L865.5,529.7 L866.5,527.2 L866.5,526.4 L866.5,526.4 L867.5,527.3 L867.5,529.5 L868.5,533.0 L868.5,536.3 L868.5,540.7 L869.5,543.4 L869.5,545.6 L870.5,547.6 L870.5,551.1 L871.5,551.2 L871.5,551.7 L872.5,552.2 L872.5,552.2 L873.5,552.9 L873.5,552.6 L874.5,551.5 L874.5,550.9 L874.5,550.1 L875.5,549.1 L875.5,549.5 L876.5,545.4 L876.5,540.8 L877.5,536.0 L877.5,528.2 L878.5,518.5 L878.5,504.7 L879.5,491.2 L879.5,476.1 L880.5,463.1 L880.5,454.2 L880.5,452.1 L881.5,452.3 L881.5,457.6 L881.5,468.7 L882.5,483.2 L882.5,499.6 L883.5,512.5 L883.5,524.6 L884.5,532.8 L884.5,540.1 L885.5,544.8 L885.5,547.0 L886.5,549.9 L886.5,551.3 L887.5,551.2 L887.5,552.6 L887.5,553.4 L888.5,552.5 L888.5,552.6 L889.5,552.5 L889.5,552.4 L890.5,553.0 L890.5,552.5 L891.5,552.4 L891.5,551.7 L892.5,550.7 L892.5,550.4 L893.5,550.4 L893.5,548.1 L894.5,547.2 L894.5,547.1 L894.5,545.3 L895.5,544.1 L895.5,543.8 L895.5,543.8 L896.5,544.1 L896.5,544.8 L897.5,546.2 L897.5,548.5 L898.5,548.3 L898.5,551.1 L899.5,550.6 L899.5,552.1 L900.5,552.3 L900.5,552.9 L900.5,553.3 L901.5,553.3 L901.5,552.7 L902.5,554.2 L902.5,554.1 L903.5,554.6 L903.5,554.7 L904.5,552.6 L904.5,554.6 L905.5,554.6 L905.5,553.2 L906.5,554.4 L906.5,554.7 L907.5,553.2 L907.5,552.5 L907.5,553.3 L908.5,555.6 L908.5,553.7 L909.5,552.6 L909.5,553.3 L910.5,552.7 L910.5,553.1 L911.5,553.5 L911.5,551.5 L912.5,553.7 L912.5,554.5 L913.5,553.3 L913.5,553.1 L913.5,554.2 L914.5,552.4 L914.5,552.4 L915.5,552.3 L915.5,553.2 L916.5,553.6 L916.5,553.2 L917.5,553.7 L917.5,553.9 L918.5,553.6 L918.5,552.6 L919.5,553.0 L919.5,554.1 L920.5,552.4 L920.5,552.9 L920.5,552.8 L921.5,552.9 L921.5,552.2 L922.5,551.9 L922.5,554.8 L923.5,553.5 L923.5,552.2 L924.5,552.6 L924.5,553.0 L925.5,552.0 L925.5,552.4 L926.5,551.1 L926.5,550.6 L926.5,549.8 L927.5,548.1 L927.5,544.6 L928.5,543.8 L928.5,540.8 L929.5,537.4 L929.5,532.7 L930.5,529.7 L930.5,526.9 L931.5,525.5 L931.5,525.4 L931.5,525.8 L932.5,527.6 L932.5,531.3 L933.5,535.9 L933.5,537.9 L933.5,541.2 L934.5,544.5 L934.5,547.2 L935.5,547.4 L935.5,550.0 L936.5,550.2 L936.5,549.9 L937.5,548.9 L937.5,549.1 L938.5,548.6 L938.5,548.5 L938.5,548.5 L939.5,548.7 L939.5,549.3 L939.5,549.6 L940.5,550.9 L940.5,552.1 L941.5,551.1 L941.5,550.9 L942.5,552.1 L942.5,551.7 L943.5,552.3 L943.5,552.8 L944.5,553.0 L944.5,554.0 L945.5,552.3 L945.5,553.4 L946.5,552.8 L946.5,554.2 L946.5,555.1 L947.5,553.4 L947.5,554.5 L948.5,552.8 L948.5,552.1 L949.5,552.3 L949.5,552.1 L950.5,552.6 L950.5,553.1 L951.5,554.2 L951.5,553.8 L952.5,553.7 L952.5,553.0 L952.5,552.8 L953.5,553.4 L953.5,553.4 L954.5,553.5 L954.5,553.6 L955.5,553.3 L955.5,551.9 L956.5,552.5 L956.5,552.7 L957.5,554.6 L957.5,553.0 L958.5,553.8 L958.5,554.4 L959.5,553.6 L959.5,553.0 L959.5,553.1 L960.5,552.5 L960.5,553.5 L961.5,554.1 L961.5,553.7 L962.5,553.9 L962.5,553.8 L963.5,554.7 L963.5,552.8 L964.5,553.3 L964.5,553.7 L965.5,554.1 L965.5,551.3 L965.5,552.7 L966.5,552.9 L966.5,552.2 L967.5,553.5 L967.5,553.0 L968.5,552.4 L968.5,551.3 L969.5,551.3 L969.5,551.1 L970.5,551.6 L970.5,549.4 L971.5,547.4 L971.5,546.1 L972.5,544.5 L972.5,543.4 L972.5,540.8 L973.5,535.8 L973.5,533.5 L974.5,531.4 L974.5,530.6 L974.5,530.6 L975.5,531.3 L975.5,533.2 L976.5,535.2 L976.5,539.3 L977.5,542.8 L977.5,543.5 L978.5,547.2 L978.5,549.2 L978.5,551.2 L979.5,552.2 L979.5,552.4 L980.5,551.6 L980.5,552.1 L981.5,553.4 L981.5,552.1 L982.5,552.5 L982.5,553.5 L983.5,552.2 L983.5,550.6 L984.5,550.8 L984.5,550.8 L985.5,549.3 L985.5,549.0 L985.5,548.1 L986.5,547.5 L986.5,547.5 L986.5,547.6 L987.5,547.9 L987.5,549.0 L988.5,549.6 L988.5,551.2 L989.5,551.0 L989.5,551.4 L990.5,553.8 L990.5,552.1 L991.5,552.6 L991.5,552.6 L991.5,553.0 L992.5,552.6 L992.5,553.3 L993.5,552.8 L993.5,553.0 L994.5,553.6 L994.5,553.9 L995.5,553.7 L995.5,552.8 L996.5,553.7 L996.5,553.3 L997.5,553.3 L997.5,552.1 L998.5,553.8 L998.5,553.2 L998.5,554.6 L999.5,553.8 L999.5,552.4 L1000.5,552.2 L1000.5,554.0 L1001.5,552.5 L1001.5,553.6 L1002.5,552.7 L1002.5,554.4 L1003.5,552.7 L1003.5,553.5 L1004.5,552.9 L1004.5,550.9 L1004.5,550.1 L1005.5,550.2 L1005.5,547.5 L1006.5,544.9 L1006.5,544.2 L1007.5,542.4 L1007.5,538.5 L1008.5,536.7 L1008.5,535.1 L1009.5,534.7 L1009.5,534.7 L1009.5,535.4 L1010.5,537.1 L1010.5,539.0 L1011.5,541.7 L1011.5,543.5 L1011.5,545.3 L1012.5,547.2 L1012.5,549.4 L1013.5,549.9 L1013.5,551.8 L1014.5,552.5 L1014.5,552.8 L1015.5,552.4 L1015.5,553.0 L1016.5,553.1 L1016.5,554.2 L1017.5,552.6 L1017.5,553.0 L1017.5,553.1 L1018.5,553.2 L1018.5,552.8 L1019.5,552.9 L1019.5,554.2 L1020.5,552.9 L1020.5,554.1 L1021.5,555.0 L1021.5,554.4 L1022.5,552.1 L1022.5,554.0 L1023.5,553.8 L1023.5,553.8 L1024.5,552.2 L1024.5,553.9 L1024.5,552.5 L1025.5,554.3 L1025.5,554.1 L1026.5,555.1 L1026.5,552.9 L1027.5,552.0 L1027.5,553.8 L1028.5,553.6 L1028.5,552.6 L1029.5,553.8 L1029.5,553.2 L1030.5,551.6 L1030.5,552.2 L1030.5,552.0 L1031.5,552.1 L1031.5,552.1 L1032.5,551.2 L1032.5,551.3 L1033.5,551.6 L1033.5,550.7 L1034.5,549.9 L1034.5,549.1 L1035.5,548.1 L1035.5,544.9 L1036.5,543.7 L1036.5,538.7 L1037.5,533.5 L1037.5,523.9 L1037.5,514.5 L1038.5,500.0 L1038.5,482.5 L1039.5,466.1 L1039.5,448.7 L1040.5,435.2 L1040.5,426.6 L1041.5,425.3 L1041.5,426.1 L1041.5,433.3 L1042.5,447.1 L1042.5,463.6 L1043.5,481.4 L1043.5,496.8 L1043.5,512.6 L1044.5,525.2 L1044.5,533.0 L1045.5,538.9 L1045.5,543.5 L1046.5,545.6 L1046.5,548.4 L1047.5,548.7 L1047.5,550.5 L1048.5,550.8 L1048.5,550.9 L1049.5,552.4 L1049.5,551.1 L1050.5,552.5 L1050.5,551.7 L1050.5,554.3 L1051.5,554.6 L1051.5,553.9 L1052.5,554.8 L1052.5,554.0 L1053.5,554.1 L1053.5,553.4 L1054.5,553.2 L1054.5,554.0 L1055.5,553.6 L1055.5,553.7 L1056.5,554.7 L1056.5,554.1 L1056.5,553.1 L1057.5,554.1 L1057.5,553.7 L1058.5,554.1 L1058.5,553.6 L1059.5,555.3 L1059.5,555.8 L1060.5,553.6 L1060.5,554.9 L1061.5,554.9 L1061.5,553.6 L1062.5,554.5 L1062.5,555.5 L1063.5,555.0 L1063.5,555.5 L1063.5,553.4 L1064.5,553.6 L1064.5,554.3 L1065.5,554.2 L1065.5,553.8 L1066.5,553.3 L1066.5,552.9 L1067.5,552.3 L1067.5,552.3 L1068.5,548.7 L1068.5,550.2 L1069.5,545.9 L1069.5,541.4 L1069.5,537.9 L1070.5,530.0 L1070.5,523.9 L1071.5,515.2 L1071.5,507.6 L1072.5,500.7 L1072.5,496.3 L1073.5,495.3 L1073.5,495.5 L1073.5,498.4 L1074.5,503.9 L1074.5,512.4 L1075.5,520.4 L1075.5,527.1 L1076.5,535.9 L1076.5,541.6 L1076.5,543.8 L1077.5,548.3 L1077.5,550.9 L1078.5,551.9 L1078.5,551.3 L1079.5,551.4 L1079.5,552.3 L1080.5,551.7 L1080.5,551.5 L1081.5,550.4 L1081.5,549.4 L1082.5,546.8 L1082.5,544.9 L1082.5,544.6 L1083.5,540.2 L1083.5,538.3 L1084.5,536.6 L1084.5,535.9 L1084.5,535.9 L1085.5,536.3 L1085.5,537.8 L1086.5,540.2 L1086.5,543.6 L1087.5,545.0 L1087.5,547.7 L1088.5,548.4 L1088.5,550.9 L1089.5,553.3 L1089.5,553.0 L1089.5,553.2 L1090.5,554.3 L1090.5,554.2 L1091.5,554.4 L1091.5,554.3 L1092.5,556.1 L1092.5,554.0 L1093.5,554.3 L1093.5,554.1 L1094.5,555.4 L1094.5,554.1 L1095.5,555.2 L1095.5,554.2 L1095.5,553.8 L1096.5,552.5 L1096.5,554.3 L1097.5,553.4 L1097.5,552.9 L1098.5,551.9 L1098.5,551.0 L1099.5,549.2 L1099.5,549.2 L1100.5,546.1 L1100.5,541.7 L1101.5,535.8 L1101.5,528.0 L1102.5,516.6 L1102.5,503.4 L1102.5,485.3 L1103.5,464.7 L1103.5,444.5 L1104.5,426.8 L1104.5,413.8 L1105.5,408.6 L1105.5,408.6 L1105.5,412.7 L1106.5,425.0 L1106.5,442.5 L1107.5,462.9 L1107.5,481.6 L1108.5,500.0 L1108.5,515.6 L1108.5,526.9 L1109.5,534.3 L1109.5,540.5 L1110.5,544.2 L1110.5,549.5 L1111.5,548.7 L1111.5,551.0 L1112.5,553.2 L1112.5,553.2 L1113.5,553.8 L1113.5,552.8 L1114.5,554.0 L1114.5,556.0 L1115.5,553.8 L1115.5,554.3 L1115.5,553.9 L1116.5,554.2 L1116.5,554.6 L1117.5,555.4 L1117.5,553.7 L1118.5,553.3 L1118.5,554.4 L1119.5,554.5 L1119.5,555.3 L1120.5,554.6 L1120.5,553.5 L1121.5,554.2 L1121.5,554.3 L1121.5,553.2 L1122.5,552.1 L1122.5,552.0 L1123.5,549.8 L1123.5,546.5 L1124.5,545.9 L1124.5,539.7 L1125.5,534.8 L1125.5,527.7 L1126.5,519.2 L1126.5,509.8 L1127.5,499.4 L1127.5,491.2 L1128.5,483.8 L1128.5,479.9 L1128.5,479.4 L1128.5,480.0 L1129.5,484.5 L1129.5,492.3 L1130.5,501.2 L1130.5,509.6 L1131.5,520.3 L1131.5,528.5 L1132.5,535.5 L1132.5,540.5 L1133.5,544.4 L1133.5,548.6 L1134.5,550.7 L1134.5,550.5 L1134.5,552.6 L1135.5,552.7 L1135.5,552.9 L1136.5,554.0 L1136.5,553.6 L1137.5,553.3 L1137.5,553.8 L1138.5,552.3 L1138.5,553.3 L1139.5,553.4 L1139.5,552.5 L1140.5,553.4 L1140.5,553.1 L1141.5,551.8 L1141.5,551.1 L1141.5,550.3 L1142.5,548.4 L1142.5,544.0 L1143.5,540.7 L1143.5,536.1 L1144.5,529.2 L1144.5,521.9 L1145.5,515.0 L1145.5,508.7 L1146.5,503.5 L1146.5,500.8 L1146.5,500.5 L1147.5,501.0 L1147.5,504.1 L1147.5,509.7 L1148.5,516.0 L1148.5,522.3 L1149.5,531.3 L1149.5,536.0 L1150.5,541.1 L1150.5,545.1 L1151.5,548.9 L1151.5,550.6 L1152.5,552.4 L1152.5,553.1 L1153.5,553.2 L1153.5,553.7 L1154.5,553.2 L1154.5,552.4 L1154.5,553.8 L1155.5,553.2 L1155.5,556.0 L1156.5,555.2 L1156.5,554.9 L1157.5,553.5 L1157.5,555.3 L1158.5,552.2 L1158.5,552.2 L1159.5,552.0 L1159.5,551.0 L1160.5,550.5 L1160.5,548.6 L1160.5,547.2 L1161.5,542.8 L1161.5,538.2 L1162.5,531.7 L1162.5,524.6 L1163.5,517.1 L1163.5,509.9 L1164.5,504.3 L1164.5,500.6 L1165.5,499.4 L1165.5,499.4 L1165.5,501.3 L1166.5,506.1 L1166.5,511.9 L1167.5,519.8 L1167.5,526.4 L1167.5,532.6 L1168.5,537.7 L1168.5,543.1 L1169.5,546.1 L1169.5,548.6 L1170.5,550.4 L1170.5,552.2 L1171.5,552.9 L1171.5,552.1 L1172.5,553.6 L1172.5,554.2 L1173.5,554.9 L1173.5,554.8 L1173.5,554.5 L1174.5,553.6 L1174.5,553.9 L1175.5,555.2 L1175.5,554.0 L1176.5,555.4 L1176.5,555.6 L1177.5,553.8 L1177.5,554.9 L1178.5,554.5 L1178.5,556.1 L1179.5,555.2 L1179.5,554.1 L1180.5,554.7 L1180.5,553.7 L1180.5,554.2 L1181.5,554.3 L1181.5,554.2 L1182.5,554.2 L1182.5,553.1 L1183.5,552.2 L1183.5,553.1 L1184.5,552.3 L1184.5,552.0 L1185.5,553.4 L1185.5,551.6 L1186.5,549.1 L1186.5,546.0 L1186.5,543.1 L1187.5,540.4 L1187.5,535.8 L1188.5,528.5 L1188.5,521.6 L1189.5,513.8 L1189.5,506.2 L1190.5,498.1 L1190.5,493.3 L1191.5,490.7 L1191.5,490.6 L1191.5,491.4 L1192.5,495.1 L1192.5,501.2 L1193.5,508.1 L1193.5,517.0 L1193.5,524.7 L1194.5,531.7 L1194.5,536.4 L1195.5,540.9 L1195.5,546.4 L1196.5,548.0 L1196.5,551.0 L1197.5,551.3 L1197.5,550.8 L1198.5,553.1 L1198.5,553.8 L1199.5,552.8 L1199.5,551.9 L1199.5,554.0 L1200.5,553.6 L1200.5,554.0 L1201.5,551.9 L1201.5,554.3 L1202.5,552.0 L1202.5,553.5 L1203.5,554.8 L1203.5,552.9 L1204.5,552.9 L1204.5,554.0 L1205.5,555.6 L1205.5,555.6 L1206.5,553.9 L1206.5,555.2 L1206.5,554.9 L1207.5,554.6 L1207.5,554.7 L1208.5,553.9 L1208.5,555.1 L1209.5,555.3 L1209.5,556.5 L1210.5,555.2 L1210.5,552.7 L1211.5,553.6 L1211.5,554.8 L1212.5,554.6 L1212.5,553.2 L1212.5,554.5 L1213.5,554.3 L1213.5,554.5 L1214.5,554.5 L1214.5,555.3 L1215.5,555.7 L1215.5,555.1 L1216.5,553.7 L1216.5,553.9 L1217.5,554.0 L1217.5,554.3 L1218.5,553.7 L1218.5,553.4 L1219.5,552.3 L1219.5,552.8 L1219.5,551.7 L1220.5,550.8 L1220.5,550.6 L1220.5,550.6 L1221.5,550.9 L1221.5,551.3 L1222.5,552.2 L1222.5,553.7 L1223.5,553.7 L1223.5,553.4 L1224.5,554.5 L1224.5,554.9 L1225.5,554.7 L1225.5,554.2 L1225.5,554.7 L1226.5,554.4 L1226.5,554.5 L1227.5,554.7 L1227.5,555.3 L1228.5,556.1 L1228.5,555.9 L1229.5,555.3 L1229.5,554.5 L1230.5,554.6 L1230.5,554.6 L1231.5,555.7 L1231.5,552.7 L1232.5,555.0 L1232.5,553.3 L1232.5,554.8 L1233.5,555.8 L1233.5,554.2 L1234.5,553.1 L1234.5,555.8 L1235.5,556.0 L1235.5,555.2 L1236.5,555.8 L1236.5,554.3 L1237.5,555.7 L1237.5,556.1 L1238.5,555.3 L1238.5,555.1 L1238.5,555.8 L1239.5,555.7 L1239.5,554.3 L1240.5,555.8 L1240.5,555.4 L1241.5,554.9 L1241.5,555.8 L1242.5,555.5 L1242.5,555.3 L1243.5,554.4 L1243.5,555.3 L1244.5,553.9 L1244.5,554.6 L1245.5,553.3 L1245.5,553.3 L1245.5,554.9 L1246.5,554.4 L1246.5,554.5 L1247.5,554.7 L1247.5,554.4 L1248.5,553.3 L1248.5,553.7 L1249.5,553.2 L1249.5,552.0 L1250.5,551.0 L1250.5,548.8 L1251.5,545.8 L1251.5,542.3 L1251.5,538.2 L1252.5,534.3 L1252.5,529.3 L1253.5,527.1 L1253.5,526.8 L1253.5,527.2 L1254.5,529.6 L1254.5,533.8 L1255.5,539.3 L1255.5,543.5 L1256.5,545.4 L1256.5,549.7 L1257.5,551.1 L1257.5,553.0 L1258.5,553.4 L1258.5,554.3 L1258.5,554.2 L1259.5,554.1 L1259.5,555.2 L1260.5,553.3 L1260.5,554.2 L1261.5,553.8 L1261.5,554.5 L1262.5,554.3 L1262.5,554.6 L1263.5,554.4 L1263.5,554.4 L1264.5,553.5 L1264.5,554.8 L1264.5,555.0 L1265.5,554.4 L1265.5,554.4 L1266.5,554.4 L1266.5,556.1 L1267.5,555.0 L1267.5,555.2 L1268.5,554.7 L1268.5,554.5 L1269.5,554.2 L1269.5,556.1 L1270.5,553.6 L1270.5,555.1 L1271.5,554.9 L1271.5,554.7 L1271.5,553.7 L1272.5,554.0 L1272.5,555.6 L1273.5,554.4 L1273.5,555.5 L1274.5,555.4 L1274.5,555.3 L1275.5,555.4 L1275.5,553.9 L1276.5,554.4 L1276.5,555.2 L1277.5,553.6 L1277.5,555.6 L1277.5,553.7 L1278.5,553.6 L1278.5,552.1 L1279.5,551.9 L1279.5,549.3 L1280.5,547.3 L1280.5,543.8 L1281.5,542.1 L1281.5,538.3 L1282.5,536.7 L1282.5,536.3 L1282.5,536.4 L1283.5,537.6 L1283.5,540.7 L1284.5,544.0 L1284.5,546.5 L1284.5,549.3 L1285.5,551.0 L1285.5,553.0 L1286.5,552.9 L1286.5,554.5 L1287.5,554.8 L1287.5,553.6 L1288.5,552.9 L1288.5,554.8 L1289.5,554.9 L1289.5,556.0 L1290.5,555.1 L1290.5,554.8 L1290.5,554.2 L1291.5,555.1 L1291.5,554.8 L1292.5,554.4 L1292.5,555.2 L1293.5,556.1 L1293.5,555.4 L1294.5,554.5 L1294.5,555.6 L1295.5,554.5 L1295.5,554.1 L1296.5,555.6 L1296.5,554.8 L1297.5,556.0 L1297.5,555.3 L1297.5,554.3 L1298.5,554.9 L1298.5,555.4 L1299.5,553.8 L1299.5,552.6 L1300.5,552.1 L1300.5,551.1 L1301.5,549.9 L1301.5,549.0 L1302.5,548.9 L1302.5,548.2 L1303.5,547.5 L1303.5,547.4 L1303.5,547.4 L1303.5,547.9 L1304.5,548.4 L1304.5,549.2 L1305.5,550.7 L1305.5,551.5 L1306.5,552.6 L1306.5,554.2 L1307.5,553.6 L1307.5,554.6 L1308.5,554.1 L1308.5,555.0 L1309.5,554.8 L1309.5,554.9 L1310.5,555.4 L1310.5,555.3 L1310.5,555.9 L1311.5,556.3 L1311.5,554.6 L1312.5,556.5 L1312.5,554.1 L1313.5,555.9 L1313.5,556.3 L1314.5,555.3 L1314.5,555.5 L1315.5,555.0 L1315.5,556.2 L1316.5,552.9 L1316.5,554.2 L1316.5,553.1 L1317.5,554.2 L1317.5,554.3 L1318.5,553.3 L1318.5,552.3 L1319.5,551.9 L1319.5,551.8 L1319.5,551.8 L1320.5,552.2 L1320.5,552.3 L1321.5,552.5 L1321.5,553.5 L1322.5,555.3 L1322.5,555.9 L1323.5,556.5 L1323.5,555.0 L1323.5,555.5 L1324.5,556.9 L1324.5,556.1 L1325.5,556.5 L1325.5,555.0 L1326.5,555.7 L1326.5,556.0 L1327.5,555.8 L1327.5,555.7 L1328.5,554.8 L1328.5,557.3 L1329.5,556.2 L1329.5,555.0 L1329.5,556.9 L1330.5,556.1 L1330.5,556.6 L1331.5,555.9 L1331.5,555.5 L1332.5,555.5 L1332.5,556.3 L1333.5,556.6 L1333.5,556.4 L1334.5,556.5 L1334.5,556.9 L1335.5,556.2 L1335.5,556.7 L1336.5,556.8 L1336.5,556.1 L1336.5,555.8 L1337.5,555.5 L1337.5,554.9 L1338.5,554.6 L1338.5,556.8 L1339.5,555.7 L1339.5,555.3 L1340.5,556.8 L1340.5,556.3 L1341.5,555.6 L1341.5,556.2 L1342.5,555.2 L1342.5,555.4 L1342.5,556.2 L1343.5,555.1 L1343.5,553.3 L1344.5,552.8 L1344.5,551.4 L1345.5,547.9 L1345.5,544.6 L1346.5,542.5 L1346.5,538.1 L1347.5,535.7 L1347.5,534.9 L1347.5,534.9 L1348.5,536.0 L1348.5,538.9 L1349.5,540.6 L1349.5,544.8 L1349.5,549.1 L1350.5,550.3 L1350.5,553.2 L1351.5,553.7 L1351.5,554.3 L1352.5,555.7 L1352.5,554.2 L1353.5,554.3 L1353.5,554.6 L1354.5,554.5 L1354.5,552.6 L1355.5,554.1 L1355.5,552.1 L1355.5,550.2 L1356.5,548.7 L1356.5,545.6 L1357.5,543.8 L1357.5,541.4 L1358.5,540.5 L1358.5,540.5 L1358.5,541.0 L1359.5,542.7 L1359.5,544.5 L1360.5,547.0 L1360.5,549.7 L1361.5,552.4 L1361.5,553.4 L1362.5,554.5 L1362.5,554.6 L1362.5,555.4 L1363.5,556.1 L1363.5,555.2 L1364.5,555.5 L1364.5,555.7 L1365.5,553.8 L1365.5,555.2 L1366.5,555.6 L1366.5,555.9 L1367.5,555.1 L1367.5,556.1 L1368.5,554.9 L1368.5,555.3 L1368.5,556.7 L1369.5,554.4 L1369.5,555.3 L1370.5,555.3 L1370.5,555.3 L1371.5,555.0 L1371.5,555.9 L1372.5,554.6 L1372.5,554.4 L1373.5,555.7 L1373.5,554.4 L1374.5,555.6 L1374.5,555.3 L1375.5,554.8 L1375.5,555.0 L1375.5,555.2 L1376.5,555.6 L1376.5,554.8 L1377.5,555.1 L1377.5,554.1 L1378.5,555.0 L1378.5,553.7 L1379.5,555.1 L1379.5,554.7 L1380.5,556.6 L1380.5,555.9 L1381.5,554.7 L1381.5,555.4 L1381.5,554.7 L1382.5,553.4 L1382.5,552.0 L1383.5,554.0 L1383.5,552.5 L1384.5,549.4 L1384.5,549.4 L1385.5,547.3 L1385.5,543.1 L1386.5,540.9 L1386.5,536.0 L1387.5,533.6 L1387.5,531.1 L1388.5,529.8 L1388.5,529.7 L1388.5,530.0 L1388.5,531.8 L1389.5,534.2 L1389.5,538.7 L1390.5,541.0 L1390.5,545.1 L1391.5,547.3 L1391.5,549.4 L1392.5,551.8 L1392.5,552.9 L1393.5,554.5 L1393.5,554.9 L1394.5,554.0 L1394.5,555.1 L1394.5,555.0 L1395.5,554.4 L1395.5,554.3 L1396.5,555.4 L1396.5,554.9 L1397.5,554.3 L1397.5,555.3 L1398.5,555.6 L1398.5,555.6 L1399.5,554.6 L1399.5,555.1 L1400.5,556.6 L1400.5,555.0 L1401.5,555.4 L1401.5,557.4 L1401.5,555.9 L1402.5,555.3 L1402.5,554.2 L1403.5,555.9 L1403.5,554.7 L1404.5,555.7 L1404.5,555.1 L1405.5,554.5 L1405.5,557.0 L1406.5,555.7 L1406.5,556.4 L1407.5,556.3 L1407.5,555.2 L1407.5,555.8 L1408.5,555.4 L1408.5,556.4 L1409.5,556.0 L1409.5,555.3 L1410.5,556.8 L1410.5,555.9 L1411.5,555.8 L1411.5,554.7 L1412.5,555.5 L1412.5,554.0 L1413.5,555.2 L1413.5,553.8 L1414.5,554.0 L1414.5,552.7 L1414.5,551.4 L1415.5,548.9 L1415.5,544.9 L1416.5,539.9 L1416.5,532.9 L1417.5,526.8 L1417.5,522.3 L1418.5,518.8 L1418.5,518.4 L1418.5,518.8 L1419.5,521.7 L1419.5,526.7 L1420.5,531.2 L1420.5,534.2 L1420.5,536.0 L1421.5,535.3 L1421.5,535.5 L1422.5,536.0 L1422.5,536.3 L1422.5,538.6 L1423.5,541.9 L1423.5,545.3 L1424.5,549.6 L1424.5,550.6 L1425.5,552.7 L1425.5,553.1 L1426.5,552.5 L1426.5,552.2 L1427.5,551.1 L1427.5,549.3 L1427.5,548.5 L1428.5,548.0 L1428.5,548.0 L1428.5,548.3 L1429.5,549.1 L1429.5,551.8 L1430.5,551.0 L1430.5,553.2 L1431.5,554.8 L1431.5,554.1 L1432.5,555.0 L1432.5,554.8 L1433.5,554.4 L1433.5,555.4 L1433.5,555.8 L1434.5,555.1 L1434.5,555.4 L1435.5,555.7 L1435.5,556.0 L1436.5,554.0 L1436.5,555.1 L1437.5,553.7 L1437.5,552.0 L1438.5,551.6 L1438.5,550.5 L1439.5,547.0 L1439.5,541.4 L1440.5,537.7 L1440.5,530.7 L1440.5,525.3 L1441.5,522.2 L1441.5,522.0 L1441.5,522.1 L1442.5,524.2 L1442.5,526.0 L1443.5,526.5 L1443.5,523.6 L1444.5,518.7 L1444.5,514.5 L1445.5,510.9 L1445.5,510.5 L1445.5,511.2 L1446.5,515.4 L1446.5,522.6 L1446.5,528.0 L1447.5,535.6 L1447.5,537.5 L1448.5,539.8 L1448.5,540.3 L1449.5,541.0 L1449.5,541.4 L1449.5,543.5 L1450.5,546.1 L1450.5,548.7 L1451.5,549.6 L1451.5,551.4 L1452.5,554.1 L1452.5,555.4 L1453.5,554.2 L1453.5,554.3 L1453.5,555.3 L1454.5,555.5 L1454.5,555.7 L1455.5,555.0 L1455.5,553.9 L1456.5,556.4 L1456.5,555.0 L1457.5,556.2 L1457.5,553.8 L1458.5,555.5 L1458.5,554.8 L1459.5,554.2 L1459.5,555.6 L1459.5,555.7 L1460.5,553.9 L1460.5,554.3 L1461.5,552.2 L1461.5,551.1 L1462.5,549.2 L1462.5,545.9 L1463.5,542.4 L1463.5,536.0 L1464.5,531.8 L1464.5,526.6 L1465.5,523.1 L1465.5,522.4 L1465.5,522.5 L1466.5,524.6 L1466.5,528.2 L1466.5,532.6 L1467.5,535.0 L1467.5,537.3 L1468.5,537.1 L1468.5,535.9 L1469.5,534.9 L1469.5,535.0 L1469.5,535.4 L1470.5,537.8 L1470.5,542.0 L1471.5,545.8 L1471.5,548.7 L1472.5,550.7 L1472.5,554.1 L1472.5,554.2 L1473.5,554.2 L1473.5,554.9 L1474.5,555.0 L1474.5,554.8 L1475.5,554.2 L1475.5,555.5 L1476.5,555.3 L1476.5,555.2 L1477.5,556.2 L1477.5,554.6 L1478.5,554.8 L1478.5,555.7 L1479.5,556.2 L1479.5,556.1 L1479.5,556.2 L1480.5,554.0 L1480.5,556.1 L1481.5,556.0 L1481.5,556.2 L1482.5,555.2 L1482.5,556.1 L1483.5,556.5 L1483.5,557.0 L1484.5,556.0 L1484.5,554.8 L1485.5,555.9 L1485.5,556.3 L1485.5,556.2 L1486.5,557.3 L1486.5,555.7 L1487.5,555.1 L1487.5,555.4 L1488.5,556.3 L1488.5,555.2 L1489.5,555.0 L1489.5,555.2 L1490.5,556.7 L1490.5,555.9 L1491.5,555.5 L1491.5,556.3 L1492.5,556.1 L1492.5,554.7 L1492.5,555.7 L1493.5,554.9 L1493.5,552.5 L1494.5,552.2 L1494.5,552.0 L1495.5,550.5 L1495.5,548.2 L1496.5,546.1 L1496.5,544.9 L1497.5,543.9 L1497.5,543.7 L1497.5,543.8 L1498.5,544.6 L1498.5,545.8 L1498.5,548.2 L1499.5,547.5 L1499.5,549.6 L1500.5,551.2 L1500.5,550.5 L1501.5,550.8 L1501.5,550.4 L1502.5,550.5 L1502.5,550.7 L1502.5,551.6 L1503.5,553.0 L1503.5,553.3 L1504.5,554.2 L1504.5,555.8 L1505.5,555.8 L1505.5,555.4 L1505.5,555.5 L1506.5,556.7 L1506.5,557.6 L1507.5,555.7 L1507.5,556.9 L1508.5,554.3 L1508.5,555.4 L1509.5,557.0 L1509.5,557.7 L1510.5,556.6 L1510.5,557.0 L1511.5,556.8 L1511.5,557.4 L1511.5,555.8 L1512.5,557.1 L1512.5,556.3 L1513.5,556.4 L1513.5,556.7 L1514.5,556.6 L1514.5,556.2 L1515.5,556.6 L1515.5,556.1 L1516.5,557.9 L1516.5,557.3 L1517.5,556.5 L1517.5,558.0 L1518.5,557.8 L1518.5,557.2 L1518.5,556.5 L1519.5,557.1 L1519.5,557.3 L1520.5,557.9 L1520.5,556.8 L1521.5,556.5 L1521.5,558.6 L1522.5,558.0 L1522.5,557.2 L1523.5,556.3 L1523.5,557.3 L1524.5,557.8 L1524.5,557.6 L1524.5,557.6 L1525.5,557.0 L1525.5,557.9 L1526.5,556.6 L1526.5,556.7 L1527.5,556.7 L1527.5,556.6 L1528.5,558.5 L1528.5,555.8 L1529.5,557.2 L1529.5,556.3 L1530.5,556.1 L1530.5,557.1 L1531.5,555.9 L1531.5,557.0 L1531.5,558.8 L1532.5,557.0 L1532.5,557.4 L1533.5,556.5 L1533.5,557.4 L1534.5,556.0 L1534.5,557.2 L1535.5,557.0 L1535.5,558.7 L1536.5,557.0 L1536.5,556.8 L1537.5,556.7 L1537.5,556.2 L1537.5,557.7 L1538.5,558.2 L1538.5,556.8 L1539.5,557.6 L1539.5,556.8 L1540.5,557.4 L1540.5,557.4 L1541.5,555.9 L1541.5,556.3 L1542.5,557.4 L1542.5,555.0 L1543.5,556.1 L1543.5,555.3 L1544.5,554.6 L1544.5,554.4 L1544.5,554.2 L1545.5,554.2 L1545.5,554.3 L1545.5,555.4 L1546.5,555.1 L1546.5,556.7 L1547.5,556.3 L1547.5,556.2 L1548.5,556.7 L1548.5,559.3 L1549.5,558.1 L1549.5,556.7 L1550.5,557.1 L1550.5,557.8 L1550.5,557.4 L1551.5,557.0 L1551.5,556.8 L1552.5,556.2 L1552.5,557.5 L1553.5,557.8 L1553.5,558.6 L1554.5,556.6 L1554.5,557.4 L1555.5,556.9 L1555.5,557.9 L1556.5,556.8 L1556.5,556.4 L1557.5,555.6 L1557.5,557.4 L1557.5,557.0 L1558.5,557.7 L1558.5,556.4 L1559.5,558.7 L1559.5,556.2 L1560.5,557.1 L1560.5,557.0 L1561.5,557.5 L1561.5,556.6 L1562.5,556.0 L1562.5,555.9 L1563.5,557.2 L1563.5,556.7 L1563.5,556.8 L1564.5,555.9 L1564.5,556.6 L1565.5,556.6 L1565.5,556.9 L1566.5,555.3 L1566.5,555.8 L1567.5,557.6 L1567.5,555.9 L1568.5,556.0 L1568.5,555.6 L1569.5,554.5 L1569.5,554.3 L1570.5,554.8 L1570.5,553.1 L1570.5,554.0 L1571.5,550.1 L1571.5,548.9 L1572.5,548.5 L1572.5,547.7 L1573.5,547.4 L1573.5,547.4 L1573.5,547.8 L1574.5,548.3 L1574.5,550.2 L1575.5,551.4 L1575.5,552.6 L1576.5,552.2 L1576.5,552.4 L1576.5,551.7 L1577.5,551.3 L1577.5,551.0 L1578.5,551.0 L1578.5,551.3 L1578.5,552.3 L1579.5,552.8 L1579.5,553.4 L1580.5,554.0 L1580.5,556.1 L1581.5,554.1 L1581.5,554.3 L1582.5,556.0 L1582.5,554.8 L1583.5,555.2 L1583.5,555.2 L1583.5,557.2 L1584.5,555.0" fill="none" stroke="#ef4040" stroke-width="3.0" stroke-linejoin="round" shape-rendering="crispEdges"/>
<g fill="#000">
<rect x="188" y="31" width="5" height="1145"/>
<rect x="1581" y="31" width="6" height="1145"/>
<rect x="190" y="28" width="1394" height="6"/>
<rect x="188" y="1151" width="1399" height="5"/>
<rect x="211" y="1156" width="5" height="9"/>
<rect x="234" y="1156" width="5" height="9"/>
<rect x="258" y="1156" width="5" height="9"/>
<rect x="281" y="1156" width="5" height="9"/>
<rect x="304" y="1156" width="5" height="20"/>
<rect x="327" y="1156" width="5" height="9"/>
<rect x="351" y="1156" width="5" height="9"/>
<rect x="374" y="1156" width="5" height="9"/>
<rect x="397" y="1156" width="5" height="9"/>
<rect x="420" y="1156" width="5" height="20"/>
<rect x="443" y="1156" width="5" height="9"/>
<rect x="467" y="1156" width="5" height="9"/>
<rect x="490" y="1156" width="5" height="9"/>
<rect x="513" y="1156" width="5" height="9"/>
<rect x="536" y="1156" width="5" height="20"/>
<rect x="560" y="1156" width="5" height="9"/>
<rect x="583" y="1156" width="5" height="9"/>
<rect x="606" y="1156" width="5" height="9"/>
<rect x="629" y="1156" width="5" height="9"/>
<rect x="652" y="1156" width="5" height="20"/>
<rect x="676" y="1156" width="5" height="9"/>
<rect x="699" y="1156" width="5" height="9"/>
<rect x="722" y="1156" width="5" height="9"/>
<rect x="745" y="1156" width="5" height="9"/>
<rect x="769" y="1156" width="5" height="20"/>
<rect x="792" y="1156" width="5" height="9"/>
<rect x="815" y="1156" width="5" height="9"/>
<rect x="838" y="1156" width="5" height="9"/>
<rect x="861" y="1156" width="5" height="9"/>
<rect x="885" y="1156" width="5" height="20"/>
<rect x="908" y="1156" width="5" height="9"/>
<rect x="931" y="1156" width="5" height="9"/>
<rect x="954" y="1156" width="5" height="9"/>
<rect x="978" y="1156" width="5" height="9"/>
<rect x="1001" y="1156" width="5" height="20"/>
<rect x="1024" y="1156" width="5" height="9"/>
<rect x="1047" y="1156" width="5" height="9"/>
<rect x="1070" y="1156" width="5" height="9"/>
<rect x="1094" y="1156" width="5" height="9"/>
<rect x="1117" y="1156" width="5" height="20"/>
<rect x="1140" y="1156" width="5" height="9"/>
<rect x="1163" y="1156" width="5" height="9"/>
<rect x="1187" y="1156" width="5" height="9"/>
<rect x="1210" y="1156" width="5" height="9"/>
<rect x="1233" y="1156" width="5" height="20"/>
<rect x="1256" y="1156" width="5" height="9"/>
<rect x="1279" y="1156" width="5" height="9"/>
<rect x="1303" y="1156" width="5" height="9"/>
<rect x="1326" y="1156" width="5" height="9"/>
<rect x="1349" y="1156" width="5" height="20"/>
<rect x="1372" y="1156" width="5" height="9"/>
<rect x="1396" y="1156" width="5" height="9"/>
<rect x="1419" y="1156" width="5" height="9"/>
<rect x="1442" y="1156" width="5" height="9"/>
<rect x="1465" y="1156" width="5" height="20"/>
<rect x="1488" y="1156" width="5" height="9"/>
<rect x="1512" y="1156" width="5" height="9"/>
<rect x="1535" y="1156" width="5" height="9"/>
<rect x="1558" y="1156" width="5" height="9"/>
</g>
<g filter="url(#bin)">
<g font-family="Liberation Sans, Arial, sans-serif" font-size="45" text-anchor="middle" fill="#000">
<text x="190.5" y="1224">10</text>
<text x="306.6" y="1224">15</text>
<text x="422.7" y="1224">20</text>
<text x="538.8" y="1224">25</text>
<text x="654.9" y="1224">30</text>
<text x="771.0" y="1224">35</text>
<text x="887.1" y="1224">40</text>
<text x="1003.3" y="1224">45</text>
<text x="1119.4" y="1224">50</text>
<text x="1235.5" y="1224">55</text>
<text x="1351.6" y="1224">60</text>
<text x="1467.7" y="1224">65</text>
<text x="1583.8" y="1224">70</text>
</g>
<text x="576" y="1331" font-family="Liberation Sans, Arial, sans-serif" font-size="78" fill="#000" id="xt">2 Theta (degrees)</text>
<text transform="translate(83,959.5) rotate(-90)" x="0" y="0" font-family="Liberation Sans, Arial, sans-serif" font-size="77.7" fill="#000" id="yt">Intensity (Arb. Units)</text>
<line x1="1075" y1="93.8" x2="1195" y2="93.8" stroke="#505050" stroke-width="1.8" shape-rendering="crispEdges"/>
<line x1="1075" y1="158.8" x2="1195" y2="158.8" stroke="#ef4040" stroke-width="2.2" shape-rendering="crispEdges"/>
<g font-family="Liberation Sans, Arial, sans-serif" font-size="53.6" fill="#000">
<text x="1208" y="112">APS Coating</text>
<text x="1208.5" y="176.8">Hap Powder</text>
</g>
<g font-family="Liberation Sans, Arial, sans-serif" font-size="33" text-anchor="middle" fill="#000">
<text x="210.5" y="499.0">o</text>
<text x="346.4" y="522.1">o</text>
<text x="395.5" y="527.0">o</text>
<text x="462.5" y="515.5">o</text>
<text x="490.5" y="514.3">o</text>
<text x="543.5" y="534.4">o</text>
<text x="557.3" y="387.5">o</text>
<text x="609.4" y="502.2">o</text>
<text x="628.2" y="475.5">o</text>
<text x="693.6" y="97.7">o</text>
<text x="705.4" y="318.4">o</text>
<text x="719.5" y="273.8">o</text>
<text x="745.4" y="443.1">o</text>
<text x="781.5" y="521.2">o</text>
<text x="864.3" y="519.0">o</text>
<text x="879.4" y="443.1">o</text>
<text x="897.7" y="534.1">o</text>
<text x="932.5" y="517.1">o</text>
<text x="973.4" y="522.3">o</text>
<text x="1009.4" y="531.4">o</text>
<text x="1042.4" y="417.0">o</text>
<text x="1070.6" y="490.3">o</text>
<text x="1087.5" y="524.2">o</text>
<text x="1106.6" y="400.0">o</text>
<text x="1129.4" y="476.3">o</text>
<text x="1145.3" y="497.3">o</text>
<text x="1164.5" y="495.1">o</text>
<text x="1192.5" y="489.2">o</text>
<text x="1252.5" y="522.9">o</text>
<text x="1283.5" y="528.8">o</text>
<text x="1342.5" y="529.2">o</text>
<text x="1359.4" y="533.9">o</text>
<text x="1386.4" y="519.9">o</text>
<text x="1417.4" y="506.0">o</text>
<text x="1441.4" y="502.9">o</text>
<text x="1467.5" y="514.1">o</text>
<text x="1499.5" y="534.2">o</text>
<text x="395.5" y="914.0">o</text>
<text x="459.5" y="891.1">o</text>
<text x="486.6" y="889.2">o</text>
<text x="543.5" y="906.2">o</text>
<text x="554.5" y="817.6">o</text>
<text x="607.2" y="875.9">o</text>
<text x="629.3" y="867.1">o</text>
<text x="695.3" y="587.1">o</text>
<text x="708.4" y="740.0">o</text>
<text x="725.4" y="747.9">o</text>
<text x="748.1" y="880.3">o</text>
<text x="783.4" y="950.3">o</text>
<text x="864.5" y="946.9">o</text>
<text x="882.6" y="910.0">o</text>
<text x="929.4" y="966.0">o</text>
<text x="972.6" y="971.1">o</text>
<text x="1004.6" y="968.2">o</text>
<text x="1040.4" y="893.0">o</text>
<text x="1075.3" y="951.2">o</text>
<text x="1087.1" y="973.0">o</text>
<text x="1105.6" y="901.8">o</text>
<text x="1126.5" y="947.7">o</text>
<text x="1149.5" y="965.9">o</text>
<text x="1169.4" y="957.0">o</text>
<text x="1193.4" y="956.1">o</text>
<text x="1256.4" y="990.0">o</text>
<text x="1284.4" y="990.8">o</text>
<text x="1389.5" y="989.9">o</text>
<text x="1421.4" y="987.0">o</text>
<text x="1444.6" y="981.1">o</text>
<text x="1470.6" y="987.0">o</text>
<text x="644.4" y="920.5">x</text>
<text x="675.4" y="918.5">x</text>
<text x="824.3" y="961.7">x</text>
</g>
</g>
</svg>
</body></html>
